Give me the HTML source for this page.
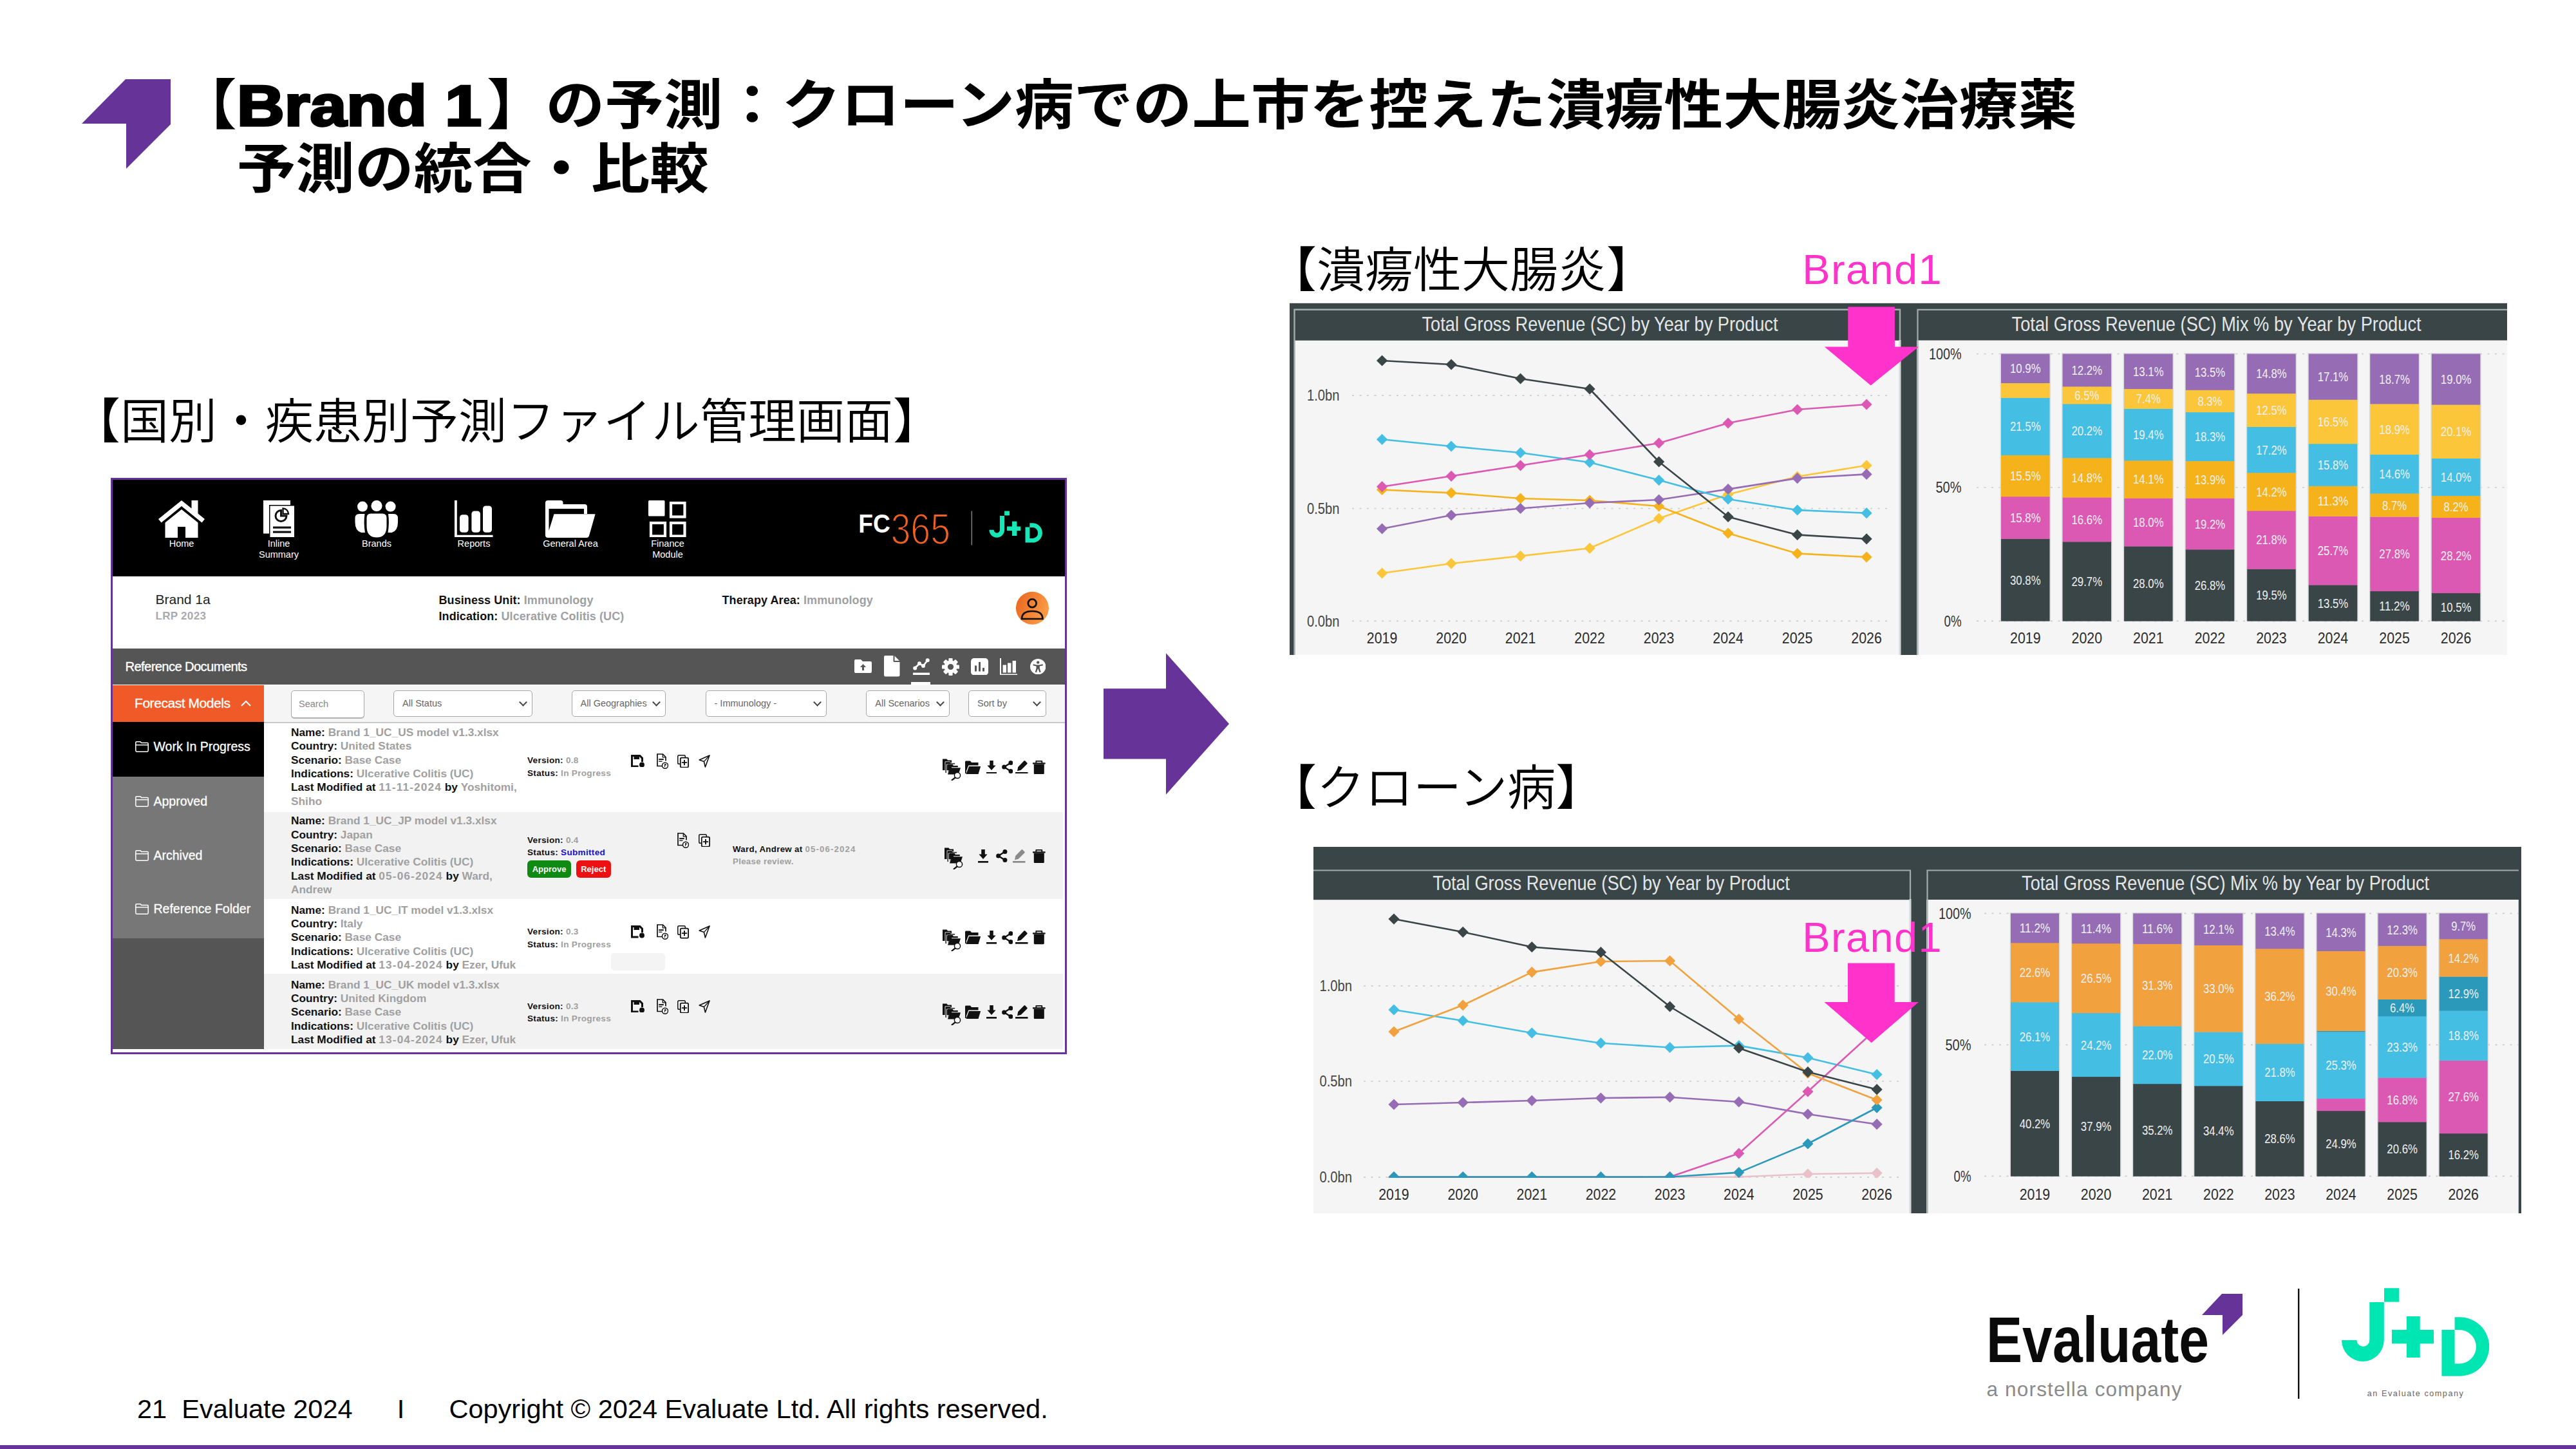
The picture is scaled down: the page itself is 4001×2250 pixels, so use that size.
<!DOCTYPE html>
<html lang="ja"><head><meta charset="utf-8"><title>Brand 1 forecast</title>
<style>
html,body{margin:0;padding:0;background:#fff;}
body{width:4001px;height:2250px;position:relative;overflow:hidden;font-family:"Liberation Sans","Noto Sans CJK JP",sans-serif;color:#000;}
.abs{position:absolute;}
.title{position:absolute;left:276px;top:114px;font-size:91.67px;line-height:108.2px;font-weight:700;white-space:nowrap;letter-spacing:0;transform:scaleY(.92);transform-origin:0 0;}
.title .lat{display:inline-block;width:388.3px;height:90px;vertical-align:baseline;}
.title .lat b{display:inline-block;position:relative;top:2px;margin-left:0.3px;font-family:"Liberation Sans",sans-serif;font-weight:700;font-size:96px;line-height:90px;-webkit-text-stroke:4px #000;transform:scaleX(1.063);transform-origin:0 50%;}
.lab{position:absolute;font-family:"Liberation Sans","Noto Sans CJK JP",sans-serif;font-weight:350;font-size:75px;line-height:100px;white-space:nowrap;}
.foot{position:absolute;left:213px;top:2164px;font-size:41.5px;line-height:48px;white-space:pre;font-family:"Liberation Sans",sans-serif;}
.pink{color:#ff33cc;}
/* app */
#app{position:absolute;left:172px;top:742px;width:1479px;height:889px;border:3px solid #663399;background:#fff;overflow:hidden;font-family:"Liberation Sans",sans-serif;}
#app .in{position:absolute;left:-175px;top:-745px;width:4001px;height:2250px;}
.nav{position:absolute;color:#fff;font-size:14.5px;line-height:17px;text-align:center;width:150px;}
.t{position:absolute;white-space:nowrap;}
.b{font-weight:700;color:#111;}
.g{font-weight:700;color:#a0a0a0;}
.row{position:absolute;left:410px;width:1244px;}
.rt{position:absolute;left:452px;font-size:17.3px;line-height:21.35px;white-space:nowrap;}
.vs{position:absolute;left:819px;font-size:13.6px;line-height:19.5px;white-space:nowrap;letter-spacing:.28px;}
.dt{letter-spacing:1.1px;}
.sel{position:absolute;box-sizing:border-box;border:1.5px solid #a8a8a8;border-radius:5px;background:#fff;color:#666;font-size:14.5px;line-height:38px;height:41px;top:1071.5px;padding-left:13px;white-space:nowrap;}
.sel i{position:absolute;right:9px;top:13px;width:7px;height:7px;border-right:2.5px solid #444;border-bottom:2.5px solid #444;transform:rotate(45deg) ;}
.side{position:absolute;left:238.5px;color:#fff;font-size:19.5px;line-height:24px;white-space:nowrap;-webkit-text-stroke:.3px #fff;}
.btn{position:absolute;color:#fff;font-weight:700;font-size:13px;line-height:27px;height:27.5px;border-radius:6px;text-align:center;top:1335.5px;}
</style></head>
<body>
<svg class="abs" style="left:0;top:0" width="400" height="400" viewBox="0 0 400 400"><polygon points="195,123 265,123 265,193 196,262 196,192 127,192" fill="#663399"/></svg>
<div class="title">【<span class="lat"><b>Brand 1</b></span>】の予測：クローン病での上市を控えた潰瘍性大腸炎治療薬<br>　予測の統合・比較</div>
<div class="lab" style="left:112px;top:605px;">【国別・疾患別予測ファイル管理画面】</div>
<div class="lab" style="left:1970px;top:369.5px;">【潰瘍性大腸炎】</div>
<div class="lab" style="left:1970px;top:1174px;">【クローン病】</div>
<svg class="abs" style="left:1700px;top:1000px" width="230" height="250" viewBox="1700 1000 230 250"><polygon points="1714,1069.2 1811,1069.2 1811,1014.2 1909,1124 1811,1233.8 1811,1178.6 1714,1178.6" fill="#663399"/></svg>
<div class="foot">21  Evaluate 2024      I      Copyright © 2024 Evaluate Ltd. All rights reserved.</div>
<div class="abs" style="left:0;top:2244px;width:4001px;height:6px;background:#663399"></div>
<div id="app"><div class="in">
<div class="abs" style="left:175px;top:745px;width:1479px;height:149.5px;background:#000"></div>
<svg class="abs" style="left:246.0px;top:775.5px" width="72.0" height="59.0" viewBox="0 0 72 59" ><path d="M36 1 L51.5 13.5 V1 H61.5 V21.5 L72 30 L67.5 35.5 L36 10 L4.5 35.5 L0 30 Z" fill="#fff"/><path d="M36 15 L61.5 35.5 V59 H42 V42 H30 V59 H10.5 V35.5 Z" fill="#fff"/></svg>
<svg class="abs" style="left:409.0px;top:776.5px" width="48.0" height="57.5" viewBox="0 0 48 57.5" ><path d="M0 0 H42 V7 H9 V51.5 H0 Z" fill="#fff"/><rect x="10.5" y="8.5" width="37.5" height="49" fill="#fff"/><path d="M27.5 15.5 A8.5 8.5 0 1 0 36 24 H27.5 Z" fill="none" stroke="#111" stroke-width="3"/><path d="M30.5 12.5 V21 H39 A8.5 8.5 0 0 0 30.5 12.5 Z" fill="none" stroke="#111" stroke-width="2.4"/><rect x="15" y="40.5" width="28" height="3.2" fill="#111"/><rect x="15" y="47.5" width="28" height="3.2" fill="#111"/></svg>
<svg class="abs" style="left:551.0px;top:777.0px" width="67.5" height="57.5" viewBox="0 0 67.5 57.5" ><circle cx="12" cy="9.6" r="8" fill="#fff"/><circle cx="34" cy="8.5" r="8.6" fill="#fff"/><circle cx="55.6" cy="9.6" r="8" fill="#fff"/><path d="M7 21 H15.5 Q13.5 35 16 50 H10 Q0.5 47 0.5 34 V27.5 Q0.5 21 7 21 Z" fill="#fff"/><path d="M60.5 21 H52 Q54 35 51.5 50 H57.5 Q67 47 67 34 V27.5 Q67 21 60.5 21 Z" fill="#fff"/><path d="M25 20.5 H43 Q49.5 20.5 49.5 27 V40 Q49.5 57.5 34 57.5 Q18.5 57.5 18.5 40 V27 Q18.5 20.5 25 20.5 Z" fill="#fff"/></svg>
<svg class="abs" style="left:706.0px;top:776.5px" width="59.5" height="57.5" viewBox="0 0 59.5 57.5" ><path d="M0 0 H3.8 V53.8 H59.5 V57.5 H0 Z" fill="#fff"/><rect x="8" y="22.3" width="13.6" height="27.5" rx="4.5" fill="#fff"/><rect x="26.4" y="16.5" width="13.6" height="33.3" rx="4.5" fill="#fff"/><rect x="44" y="8.5" width="14" height="41.3" rx="4.5" fill="#fff"/></svg>
<svg class="abs" style="left:847.0px;top:776.5px" width="78.0" height="58.0" viewBox="0 0 78 58" ><path d="M4 0 H24 Q27.5 0 27.5 3.5 V6 H61 Q65 6 65 10 V21 H60 V13 H5.5 V47 L13.5 21.3 H77.6 L68 55 Q67 58 64 58 H4 Q0 58 0 54 V4 Q0 0 4 0 Z" fill="#fff"/></svg>
<svg class="abs" style="left:1007.0px;top:776.5px" width="58.5" height="57.5" viewBox="0 0 58.5 57.5" ><rect x="0" y="0" width="25.5" height="24.5" rx="1.5" fill="#fff"/><rect x="35" y="4" width="21.5" height="21.5" fill="none" stroke="#fff" stroke-width="4.2"/><rect x="4" y="35" width="22" height="20.5" fill="none" stroke="#fff" stroke-width="4.2"/><rect x="35" y="35" width="21.5" height="20.5" fill="none" stroke="#fff" stroke-width="4.2"/></svg>
<div class="nav" style="left:207px;top:835.5px">Home</div>
<div class="nav" style="left:358px;top:835.5px">Inline<br>Summary</div>
<div class="nav" style="left:510px;top:835.5px">Brands</div>
<div class="nav" style="left:661px;top:835.5px">Reports</div>
<div class="nav" style="left:811px;top:835.5px">General Area</div>
<div class="nav" style="left:962px;top:835.5px">Finance<br>Module</div>
<svg class="abs" style="left:1325px;top:785px" width="310" height="70" viewBox="1325 785 310 70"><text x="1333.3" y="826.8" font-family="Liberation Sans, sans-serif" font-weight="700" font-size="40.5" fill="#fff" textLength="49.5" lengthAdjust="spacingAndGlyphs">FC</text><text x="1383.5" y="845.2" font-family="Liberation Sans, sans-serif" font-weight="400" font-size="69" fill="#f4601f" stroke="#000" stroke-width="2.2" textLength="92.5" lengthAdjust="spacingAndGlyphs">365</text><rect x="1508.5" y="793.5" width="1.6" height="53" fill="#777"/><g fill="#17e6b6"><rect x="1560.1" y="793.5" width="7.9" height="6.9"/><path d="M1552.9 801 H1560.1 V822.85 A11.85 11.85 0 0 1 1536.4 822.85 H1543.6 A4.65 4.65 0 0 0 1552.9 822.85 Z"/><rect x="1564" y="817.5" width="21.2" height="6.6"/><rect x="1572" y="809.6" width="7.3" height="22.4"/><path d="M1592.5 818.5 H1599.3 V835.9 H1603.7 A8.5 8.5 0 0 0 1603.7 818.9 H1599.3 V812.2 H1603.7 A15.2 15.2 0 0 1 1603.7 842.6 H1592.5 Z"/></g></svg>
<div class="t " style="left:241.5px;top:918.0px;font-size:21px;line-height:26px;color:#222;">Brand 1a</div>
<div class="t " style="left:241.5px;top:945.5px;font-size:17px;line-height:22px;font-weight:700;color:#a9a9b0;letter-spacing:.3px">LRP 2023</div>
<div class="t " style="left:681.5px;top:920.5px;font-size:18px;line-height:23px;letter-spacing:.08px"><span class="b">Business Unit:</span> <span class="g">Immunology</span></div>
<div class="t " style="left:681.5px;top:945.5px;font-size:18px;line-height:23px;letter-spacing:.08px"><span class="b">Indication:</span> <span class="g">Ulcerative Colitis (UC)</span></div>
<div class="t " style="left:1121.5px;top:920.5px;font-size:18px;line-height:23px;letter-spacing:.08px"><span class="b">Therapy Area:</span> <span class="g">Immunology</span></div>
<svg class="abs" style="left:1577px;top:918px" width="53" height="53" viewBox="0 0 53 53"><defs><linearGradient id="av" x1="0" y1="0" x2="1" y2="0.4"><stop offset="0" stop-color="#e8641e"/><stop offset="1" stop-color="#fa9a45"/></linearGradient></defs><circle cx="26.4" cy="26.3" r="25.5" fill="url(#av)"/><circle cx="26.2" cy="18.8" r="6.4" fill="none" stroke="#111" stroke-width="2.7"/><path d="M10 43 Q10 31 26.2 31 Q42.4 31 42.4 43 Z" fill="none" stroke="#111" stroke-width="2.7"/></svg>
<div class="abs" style="left:175px;top:1007.3px;width:1479px;height:56.2px;background:#555"></div>
<div class="t " style="left:194.5px;top:1022.5px;font-size:20.2px;line-height:25px;color:#fff;letter-spacing:-.62px;-webkit-text-stroke:.35px #fff;">Reference Documents</div>
<svg class="abs" style="left:1327.0px;top:1023.5px" width="27.0" height="21.1" viewBox="0 0 27 21" ><path d="M2 0 H10 L13 3 H25 Q27 3 27 5 V19 Q27 21 25 21 H2 Q0 21 0 19 V2 Q0 0 2 0 Z" fill="#fff"/><path d="M13.5 7 L18 12 H15 V17 H12 V12 H9 Z" fill="#555"/></svg>
<svg class="abs" style="left:1373.4px;top:1018.0px" width="24.5" height="32.5" viewBox="0 0 24.5 32.5" ><path d="M2 0 H14.5 V8.5 Q14.5 10 16 10 H24.5 V30 Q24.5 32.5 22 32.5 H2 Q0 32.5 0 30 V2 Q0 0 2 0 Z M16.5 0.5 L24 8 H16.5 Z" fill="#fff"/></svg>
<svg class="abs" style="left:1418.0px;top:1022.0px" width="26.0" height="26.0" viewBox="0 0 26 26" ><polyline points="3,15.5 10,8.5 16,12 22.5,3.5" fill="none" stroke="#fff" stroke-width="2.6"/><circle cx="3.2" cy="15.5" r="3" fill="#fff"/><circle cx="10" cy="8.3" r="3" fill="#fff"/><circle cx="16" cy="12" r="3" fill="#fff"/><circle cx="22.7" cy="3.3" r="3" fill="#fff"/><rect x="0" y="22.6" width="26" height="3.4" fill="#fff"/></svg>
<svg class="abs" style="left:1462.5px;top:1021.5px" width="27.0" height="27.0" viewBox="0 0 27 27" ><rect x="10.4" y="0" width="6.2" height="8" rx="1.2" transform="rotate(0 13.5 13.5)" fill="#fff"/><rect x="10.4" y="0" width="6.2" height="8" rx="1.2" transform="rotate(45 13.5 13.5)" fill="#fff"/><rect x="10.4" y="0" width="6.2" height="8" rx="1.2" transform="rotate(90 13.5 13.5)" fill="#fff"/><rect x="10.4" y="0" width="6.2" height="8" rx="1.2" transform="rotate(135 13.5 13.5)" fill="#fff"/><rect x="10.4" y="0" width="6.2" height="8" rx="1.2" transform="rotate(180 13.5 13.5)" fill="#fff"/><rect x="10.4" y="0" width="6.2" height="8" rx="1.2" transform="rotate(225 13.5 13.5)" fill="#fff"/><rect x="10.4" y="0" width="6.2" height="8" rx="1.2" transform="rotate(270 13.5 13.5)" fill="#fff"/><rect x="10.4" y="0" width="6.2" height="8" rx="1.2" transform="rotate(315 13.5 13.5)" fill="#fff"/><circle cx="13.5" cy="13.5" r="10" fill="#fff"/><circle cx="13.5" cy="13.5" r="4.6" fill="#555"/></svg>
<svg class="abs" style="left:1508.0px;top:1021.5px" width="27.0" height="26.5" viewBox="0 0 27 26.5" ><rect x="0" y="0" width="27" height="26.5" rx="5" fill="#fff"/><rect x="6" y="11.5" width="3" height="9" fill="#555"/><rect x="12" y="6" width="3" height="14.5" fill="#555"/><rect x="18" y="15" width="3" height="5.5" fill="#555"/></svg>
<svg class="abs" style="left:1553.0px;top:1021.5px" width="27.0" height="26.5" viewBox="0 0 27 26.5" ><path d="M0 0 H2 V24.5 H27 V26.5 H0 Z" fill="#fff"/><rect x="4.6" y="10.5" width="5.4" height="12" fill="#fff"/><rect x="12" y="7.5" width="5.4" height="15" fill="#fff"/><rect x="19.6" y="4" width="5.4" height="18.5" fill="#fff"/></svg>
<svg class="abs" style="left:1599.7px;top:1022.6px" width="24.4" height="24.4" viewBox="0 0 24.4 24.4" ><circle cx="12.2" cy="12.2" r="12.2" fill="#fff"/><circle cx="12.2" cy="5.6" r="2.2" fill="#555"/><path d="M4.8 8.3 L10 9.4 H14.4 L19.6 8.3 L20 10.3 L14.8 11.6 V14.5 L16.6 20.6 L14.6 21.2 L12.4 15.6 H12 L9.8 21.2 L7.8 20.6 L9.6 14.5 V11.6 L4.4 10.3 Z" fill="#555"/></svg>
<div class="abs" style="left:1415px;top:1059px;width:29.5px;height:4.5px;background:#fff"></div>
<div class="abs" style="left:175px;top:1063.5px;width:235px;height:57px;background:#f05a28"></div>
<div class="t " style="left:209.0px;top:1079.0px;font-size:21px;line-height:26px;color:#fff;letter-spacing:-.45px;-webkit-text-stroke:.3px #fff;">Forecast Models</div>
<svg class="abs" style="left:373px;top:1086px" width="18" height="12" viewBox="0 0 18 12"><polyline points="2,10 9,3 16,10" fill="none" stroke="#fff" stroke-width="2.2"/></svg>
<div class="abs" style="left:175px;top:1120.5px;width:235px;height:85.5px;background:#000"></div>
<div class="abs" style="left:175px;top:1206px;width:235px;height:251px;background:#777"></div>
<div class="abs" style="left:175px;top:1457px;width:235px;height:172px;background:#555"></div>
<svg class="abs" style="left:210.0px;top:1150.5px" width="21.0" height="17.0" viewBox="0 0 21 17" ><path d="M2.2 0.8 H8 L9.6 2.6 H18.8 Q20.2 2.6 20.2 4 V14.6 Q20.2 16.2 18.6 16.2 H2.4 Q0.8 16.2 0.8 14.6 V2.2 Q0.8 0.8 2.2 0.8 Z" fill="none" stroke="#fff" stroke-width="1.5"/><path d="M0.8 5.8 H20.2" stroke="#fff" stroke-width="1.4"/></svg>
<div class="side" style="top:1146.5px">Work In Progress</div>
<svg class="abs" style="left:210.0px;top:1235.5px" width="21.0" height="17.0" viewBox="0 0 21 17" ><path d="M2.2 0.8 H8 L9.6 2.6 H18.8 Q20.2 2.6 20.2 4 V14.6 Q20.2 16.2 18.6 16.2 H2.4 Q0.8 16.2 0.8 14.6 V2.2 Q0.8 0.8 2.2 0.8 Z" fill="none" stroke="#fff" stroke-width="1.5"/><path d="M0.8 5.8 H20.2" stroke="#fff" stroke-width="1.4"/></svg>
<div class="side" style="top:1231.5px">Approved</div>
<svg class="abs" style="left:210.0px;top:1319.5px" width="21.0" height="17.0" viewBox="0 0 21 17" ><path d="M2.2 0.8 H8 L9.6 2.6 H18.8 Q20.2 2.6 20.2 4 V14.6 Q20.2 16.2 18.6 16.2 H2.4 Q0.8 16.2 0.8 14.6 V2.2 Q0.8 0.8 2.2 0.8 Z" fill="none" stroke="#fff" stroke-width="1.5"/><path d="M0.8 5.8 H20.2" stroke="#fff" stroke-width="1.4"/></svg>
<div class="side" style="top:1315.5px">Archived</div>
<svg class="abs" style="left:210.0px;top:1403.2px" width="21.0" height="17.0" viewBox="0 0 21 17" ><path d="M2.2 0.8 H8 L9.6 2.6 H18.8 Q20.2 2.6 20.2 4 V14.6 Q20.2 16.2 18.6 16.2 H2.4 Q0.8 16.2 0.8 14.6 V2.2 Q0.8 0.8 2.2 0.8 Z" fill="none" stroke="#fff" stroke-width="1.5"/><path d="M0.8 5.8 H20.2" stroke="#fff" stroke-width="1.4"/></svg>
<div class="side" style="top:1399.2px">Reference Folder</div>
<div class="abs" style="left:410px;top:1063.5px;width:1244px;height:57.5px;background:#f5f5f5;border-bottom:2px solid #c9c9c9"></div>
<div class="sel" style="left:452.0px;width:114.0px;top:1071.5px;height:43px;line-height:41px;color:#888;padding-left:11px;box-shadow:0 1px 0 #bbb;">Search</div>
<div class="sel" style="left:611.0px;width:216.0px;">All Status<i></i></div>
<div class="sel" style="left:887.5px;width:146.0px;">All Geographies<i></i></div>
<div class="sel" style="left:1095.5px;width:188.0px;">- Immunology -<i></i></div>
<div class="sel" style="left:1345.3px;width:129.4px;">All Scenarios<i></i></div>
<div class="sel" style="left:1504.0px;width:121.0px;">Sort by<i></i></div>
<div class="abs" style="left:410px;top:1123px;width:1241px;height:138px;background:#fff"></div>
<div class="abs" style="left:410px;top:1261px;width:1241px;height:135px;background:#f2f2f2"></div>
<div class="abs" style="left:410px;top:1396px;width:1241px;height:116px;background:#fff"></div>
<div class="abs" style="left:410px;top:1512px;width:1241px;height:117px;background:#f2f2f2"></div>
<div class="rt" style="top:1127.0px"><span class="b">Name:</span> <span class="g">Brand 1_UC_US model v1.3.xlsx</span><br><span class="b">Country:</span> <span class="g">United States</span><br><span class="b">Scenario:</span> <span class="g">Base Case</span><br><span class="b">Indications:</span> <span class="g">Ulcerative Colitis (UC)</span><br><span class="b">Last Modified at</span> <span class="g dt">11-11-2024</span> <span class="b">by</span> <span class="g">Yoshitomi,<br>Shiho</span></div>
<div class="rt" style="top:1264.3px"><span class="b">Name:</span> <span class="g">Brand 1_UC_JP model v1.3.xlsx</span><br><span class="b">Country:</span> <span class="g">Japan</span><br><span class="b">Scenario:</span> <span class="g">Base Case</span><br><span class="b">Indications:</span> <span class="g">Ulcerative Colitis (UC)</span><br><span class="b">Last Modified at</span> <span class="g dt">05-06-2024</span> <span class="b">by</span> <span class="g">Ward,<br>Andrew</span></div>
<div class="rt" style="top:1402.8px"><span class="b">Name:</span> <span class="g">Brand 1_UC_IT model v1.3.xlsx</span><br><span class="b">Country:</span> <span class="g">Italy</span><br><span class="b">Scenario:</span> <span class="g">Base Case</span><br><span class="b">Indications:</span> <span class="g">Ulcerative Colitis (UC)</span><br><span class="b">Last Modified at</span> <span class="g dt">13-04-2024</span> <span class="b">by</span> <span class="g">Ezer, Ufuk</span></div>
<div class="rt" style="top:1518.6px"><span class="b">Name:</span> <span class="g">Brand 1_UC_UK model v1.3.xlsx</span><br><span class="b">Country:</span> <span class="g">United Kingdom</span><br><span class="b">Scenario:</span> <span class="g">Base Case</span><br><span class="b">Indications:</span> <span class="g">Ulcerative Colitis (UC)</span><br><span class="b">Last Modified at</span> <span class="g dt">13-04-2024</span> <span class="b">by</span> <span class="g">Ezer, Ufuk</span></div>
<div class="vs" style="top:1171.3px"><span class="b">Version:</span> <span class="g">0.8</span><br><span class="b">Status:</span> <span class="g">In Progress</span></div>
<div class="vs" style="top:1294.7px"><span class="b">Version:</span> <span class="g">0.4</span><br><span class="b">Status:</span> <span style="color:#1a12c8;font-weight:700">Submitted</span></div>
<div class="vs" style="top:1437.0px"><span class="b">Version:</span> <span class="g">0.3</span><br><span class="b">Status:</span> <span class="g">In Progress</span></div>
<div class="vs" style="top:1552.7px"><span class="b">Version:</span> <span class="g">0.3</span><br><span class="b">Status:</span> <span class="g">In Progress</span></div>
<div class="btn" style="left:819px;width:68px;background:#0f8a12">Approve</div><div class="btn" style="left:894.5px;width:54.5px;background:#ee1111">Reject</div>
<div class="abs" style="left:949px;top:1480px;width:84px;height:27px;border-radius:5px;background:#f4f4f4"></div>
<svg class="abs" style="left:979.8px;top:1171.8px" width="21.2" height="19.5" viewBox="0 0 21.2 19.5" ><path d="M0 0 H14.5 L19 4.5 V11 H16 V6 L13.5 3.2 H13 V7 H4.5 V3 H3 V16.5 H11.5 V19.5 H0 Z" fill="#111"/><rect x="6.5" y="1" width="3.6" height="4" fill="#111"/><circle cx="17" cy="15.5" r="4" fill="#111"/></svg>
<svg class="abs" style="left:1020.0px;top:1169.7px" width="18.0" height="24.0" viewBox="0 0 18 24" ><path d="M1 1 H9.5 L14 5.5 V11.5" fill="none" stroke="#111" stroke-width="1.7"/><path d="M1 0.2 V19.5 H8" fill="none" stroke="#111" stroke-width="1.7"/><path d="M9.3 1.3 V5.8 H13.8" fill="none" stroke="#111" stroke-width="1.3"/><rect x="3.2" y="8.2" width="7.6" height="1.9" fill="#111"/><rect x="3.2" y="11.6" width="5.2" height="1.3" fill="#111"/><circle cx="13" cy="18.7" r="4.5" fill="#fff" stroke="#111" stroke-width="1.5"/><path d="M12 16.3 H14.6 V18.6 H12.9 V21 H12 Z" fill="#111"/></svg>
<svg class="abs" style="left:1051.7px;top:1171.7px" width="18.0" height="20.5" viewBox="0 0 18 20.5" ><rect x="0.8" y="0.8" width="11.5" height="13.5" rx="1.8" fill="#fff" stroke="#111" stroke-width="1.5"/><rect x="4.8" y="4.6" width="12.3" height="15" rx="1.8" fill="#fff" stroke="#111" stroke-width="1.8"/><path d="M11 8 V16.2 M6.9 12.1 H15.1" stroke="#111" stroke-width="1.9" fill="none"/></svg>
<svg class="abs" style="left:1085.2px;top:1172.1px" width="18.0" height="20.0" viewBox="0 0 18 20" ><path d="M17 1 L1.2 8 L8.4 10.6 L10.4 19 Z" fill="none" stroke="#111" stroke-width="1.6" stroke-linejoin="round"/><path d="M17 1 L8.4 10.6" stroke="#111" stroke-width="1.4"/></svg>
<svg class="abs" style="left:979.8px;top:1437.1px" width="21.2" height="19.5" viewBox="0 0 21.2 19.5" ><path d="M0 0 H14.5 L19 4.5 V11 H16 V6 L13.5 3.2 H13 V7 H4.5 V3 H3 V16.5 H11.5 V19.5 H0 Z" fill="#111"/><rect x="6.5" y="1" width="3.6" height="4" fill="#111"/><circle cx="17" cy="15.5" r="4" fill="#111"/></svg>
<svg class="abs" style="left:1020.0px;top:1435.0px" width="18.0" height="24.0" viewBox="0 0 18 24" ><path d="M1 1 H9.5 L14 5.5 V11.5" fill="none" stroke="#111" stroke-width="1.7"/><path d="M1 0.2 V19.5 H8" fill="none" stroke="#111" stroke-width="1.7"/><path d="M9.3 1.3 V5.8 H13.8" fill="none" stroke="#111" stroke-width="1.3"/><rect x="3.2" y="8.2" width="7.6" height="1.9" fill="#111"/><rect x="3.2" y="11.6" width="5.2" height="1.3" fill="#111"/><circle cx="13" cy="18.7" r="4.5" fill="#fff" stroke="#111" stroke-width="1.5"/><path d="M12 16.3 H14.6 V18.6 H12.9 V21 H12 Z" fill="#111"/></svg>
<svg class="abs" style="left:1051.7px;top:1437.0px" width="18.0" height="20.5" viewBox="0 0 18 20.5" ><rect x="0.8" y="0.8" width="11.5" height="13.5" rx="1.8" fill="#fff" stroke="#111" stroke-width="1.5"/><rect x="4.8" y="4.6" width="12.3" height="15" rx="1.8" fill="#fff" stroke="#111" stroke-width="1.8"/><path d="M11 8 V16.2 M6.9 12.1 H15.1" stroke="#111" stroke-width="1.9" fill="none"/></svg>
<svg class="abs" style="left:1085.2px;top:1437.4px" width="18.0" height="20.0" viewBox="0 0 18 20" ><path d="M17 1 L1.2 8 L8.4 10.6 L10.4 19 Z" fill="none" stroke="#111" stroke-width="1.6" stroke-linejoin="round"/><path d="M17 1 L8.4 10.6" stroke="#111" stroke-width="1.4"/></svg>
<svg class="abs" style="left:979.8px;top:1552.9px" width="21.2" height="19.5" viewBox="0 0 21.2 19.5" ><path d="M0 0 H14.5 L19 4.5 V11 H16 V6 L13.5 3.2 H13 V7 H4.5 V3 H3 V16.5 H11.5 V19.5 H0 Z" fill="#111"/><rect x="6.5" y="1" width="3.6" height="4" fill="#111"/><circle cx="17" cy="15.5" r="4" fill="#111"/></svg>
<svg class="abs" style="left:1020.0px;top:1550.8px" width="18.0" height="24.0" viewBox="0 0 18 24" ><path d="M1 1 H9.5 L14 5.5 V11.5" fill="none" stroke="#111" stroke-width="1.7"/><path d="M1 0.2 V19.5 H8" fill="none" stroke="#111" stroke-width="1.7"/><path d="M9.3 1.3 V5.8 H13.8" fill="none" stroke="#111" stroke-width="1.3"/><rect x="3.2" y="8.2" width="7.6" height="1.9" fill="#111"/><rect x="3.2" y="11.6" width="5.2" height="1.3" fill="#111"/><circle cx="13" cy="18.7" r="4.5" fill="#fff" stroke="#111" stroke-width="1.5"/><path d="M12 16.3 H14.6 V18.6 H12.9 V21 H12 Z" fill="#111"/></svg>
<svg class="abs" style="left:1051.7px;top:1552.8px" width="18.0" height="20.5" viewBox="0 0 18 20.5" ><rect x="0.8" y="0.8" width="11.5" height="13.5" rx="1.8" fill="#fff" stroke="#111" stroke-width="1.5"/><rect x="4.8" y="4.6" width="12.3" height="15" rx="1.8" fill="#fff" stroke="#111" stroke-width="1.8"/><path d="M11 8 V16.2 M6.9 12.1 H15.1" stroke="#111" stroke-width="1.9" fill="none"/></svg>
<svg class="abs" style="left:1085.2px;top:1553.2px" width="18.0" height="20.0" viewBox="0 0 18 20" ><path d="M17 1 L1.2 8 L8.4 10.6 L10.4 19 Z" fill="none" stroke="#111" stroke-width="1.6" stroke-linejoin="round"/><path d="M17 1 L8.4 10.6" stroke="#111" stroke-width="1.4"/></svg>
<svg class="abs" style="left:1052.0px;top:1292.7px" width="18.0" height="24.0" viewBox="0 0 18 24" ><path d="M1 1 H9.5 L14 5.5 V11.5" fill="none" stroke="#111" stroke-width="1.7"/><path d="M1 0.2 V19.5 H8" fill="none" stroke="#111" stroke-width="1.7"/><path d="M9.3 1.3 V5.8 H13.8" fill="none" stroke="#111" stroke-width="1.3"/><rect x="3.2" y="8.2" width="7.6" height="1.9" fill="#111"/><rect x="3.2" y="11.6" width="5.2" height="1.3" fill="#111"/><circle cx="13" cy="18.7" r="4.5" fill="#fff" stroke="#111" stroke-width="1.5"/><path d="M12 16.3 H14.6 V18.6 H12.9 V21 H12 Z" fill="#111"/></svg>
<svg class="abs" style="left:1084.5px;top:1294.7px" width="18.0" height="20.5" viewBox="0 0 18 20.5" ><rect x="0.8" y="0.8" width="11.5" height="13.5" rx="1.8" fill="#fff" stroke="#111" stroke-width="1.5"/><rect x="4.8" y="4.6" width="12.3" height="15" rx="1.8" fill="#fff" stroke="#111" stroke-width="1.8"/><path d="M11 8 V16.2 M6.9 12.1 H15.1" stroke="#111" stroke-width="1.9" fill="none"/></svg>
<div class="t " style="left:1138.0px;top:1310.0px;font-size:13.3px;line-height:18.8px;letter-spacing:.3px"><span class="b">Ward, Andrew at</span> <span class="g dt">05-06-2024</span><br><span class="g">Please review.</span></div>
<svg class="abs" style="left:1463.5px;top:1178.0px" width="29.0" height="34.0" viewBox="0 0 29 34" ><path d="M0 0.5 H6.5 L8 2.5 H14 V18 H0 Z" fill="#111"/><path d="M4 4.8 H11.5 L13 6.8 H19.5 V9 H6.2 V22.5 H4 Z" fill="#111" stroke="#fff" stroke-width="0.8"/><path d="M8 9 H15.5 L17 11 H23.8 V13.2 H10.5 L8.6 21 V24 Z" fill="#111"/><path d="M11.2 14.2 H28 L24.6 24.5 H8 Z" fill="#111"/><circle cx="23" cy="26" r="4.6" fill="#fff" stroke="#111" stroke-width="1.5"/><path d="M19.6 29.4 L14.6 33.4" stroke="#111" stroke-width="2.3" stroke-linecap="round"/></svg>
<svg class="abs" style="left:1498.6px;top:1180.7px" width="24.4" height="21.3" viewBox="0 0 24.4 21.3" ><path d="M1 0.5 H8 L10 3 H20.5 V7.5 H5.2 L1.8 16.5 V20 H0 V1.5 Z" fill="#111"/><path d="M6 9 H24.2 L20.5 21 H1.5 Z" fill="#111"/></svg>
<svg class="abs" style="left:1531.8px;top:1180.7px" width="16.0" height="20.7" viewBox="0 0 16 20.7" ><path d="M5.2 0 H10.8 V7.6 H14.6 L8 15 L1.4 7.6 H5.2 Z" fill="#111"/><rect x="0" y="18" width="16" height="2.7" fill="#111"/></svg>
<svg class="abs" style="left:1555.8px;top:1181.3px" width="17.5" height="20.0" viewBox="0 0 17.5 20" ><path d="M13.8 3.4 L3.6 10 L13.8 16.6" fill="none" stroke="#111" stroke-width="2.4"/><circle cx="13.9" cy="3.5" r="3.5" fill="#111"/><circle cx="3.6" cy="10" r="3.5" fill="#111"/><circle cx="13.9" cy="16.5" r="3.5" fill="#111"/></svg>
<svg class="abs" style="left:1577.3px;top:1180.7px" width="19.5" height="20.7" viewBox="0 0 19.5 20.7" ><path d="M13.4 0.6 Q14.4 -0.4 15.4 0.6 L18.2 3.4 Q19.2 4.4 18.2 5.4 L8.8 14.8 L3 16.2 L4.2 10 Z" fill="#111"/><rect x="0" y="18" width="19.5" height="2.7" fill="#111"/></svg>
<svg class="abs" style="left:1604.0px;top:1180.7px" width="19.6" height="21.3" viewBox="0 0 19.6 21.3" ><path d="M5.4 0 H14.2 Q15.2 0 15.2 1 V3.2 H19.6 V5.4 H0 V3.2 H4.4 V1 Q4.4 0 5.4 0 Z M6.2 1.8 V3.2 H13.4 V1.8 Z" fill="#111"/><path d="M1.8 5.4 H17.8 V19.6 Q17.8 21.3 16.2 21.3 H3.4 Q1.8 21.3 1.8 19.6 Z" fill="#111"/></svg>
<svg class="abs" style="left:1463.5px;top:1442.7px" width="29.0" height="34.0" viewBox="0 0 29 34" ><path d="M0 0.5 H6.5 L8 2.5 H14 V18 H0 Z" fill="#111"/><path d="M4 4.8 H11.5 L13 6.8 H19.5 V9 H6.2 V22.5 H4 Z" fill="#111" stroke="#fff" stroke-width="0.8"/><path d="M8 9 H15.5 L17 11 H23.8 V13.2 H10.5 L8.6 21 V24 Z" fill="#111"/><path d="M11.2 14.2 H28 L24.6 24.5 H8 Z" fill="#111"/><circle cx="23" cy="26" r="4.6" fill="#fff" stroke="#111" stroke-width="1.5"/><path d="M19.6 29.4 L14.6 33.4" stroke="#111" stroke-width="2.3" stroke-linecap="round"/></svg>
<svg class="abs" style="left:1498.6px;top:1445.4px" width="24.4" height="21.3" viewBox="0 0 24.4 21.3" ><path d="M1 0.5 H8 L10 3 H20.5 V7.5 H5.2 L1.8 16.5 V20 H0 V1.5 Z" fill="#111"/><path d="M6 9 H24.2 L20.5 21 H1.5 Z" fill="#111"/></svg>
<svg class="abs" style="left:1531.8px;top:1445.4px" width="16.0" height="20.7" viewBox="0 0 16 20.7" ><path d="M5.2 0 H10.8 V7.6 H14.6 L8 15 L1.4 7.6 H5.2 Z" fill="#111"/><rect x="0" y="18" width="16" height="2.7" fill="#111"/></svg>
<svg class="abs" style="left:1555.8px;top:1446.0px" width="17.5" height="20.0" viewBox="0 0 17.5 20" ><path d="M13.8 3.4 L3.6 10 L13.8 16.6" fill="none" stroke="#111" stroke-width="2.4"/><circle cx="13.9" cy="3.5" r="3.5" fill="#111"/><circle cx="3.6" cy="10" r="3.5" fill="#111"/><circle cx="13.9" cy="16.5" r="3.5" fill="#111"/></svg>
<svg class="abs" style="left:1577.3px;top:1445.4px" width="19.5" height="20.7" viewBox="0 0 19.5 20.7" ><path d="M13.4 0.6 Q14.4 -0.4 15.4 0.6 L18.2 3.4 Q19.2 4.4 18.2 5.4 L8.8 14.8 L3 16.2 L4.2 10 Z" fill="#111"/><rect x="0" y="18" width="19.5" height="2.7" fill="#111"/></svg>
<svg class="abs" style="left:1604.0px;top:1445.4px" width="19.6" height="21.3" viewBox="0 0 19.6 21.3" ><path d="M5.4 0 H14.2 Q15.2 0 15.2 1 V3.2 H19.6 V5.4 H0 V3.2 H4.4 V1 Q4.4 0 5.4 0 Z M6.2 1.8 V3.2 H13.4 V1.8 Z" fill="#111"/><path d="M1.8 5.4 H17.8 V19.6 Q17.8 21.3 16.2 21.3 H3.4 Q1.8 21.3 1.8 19.6 Z" fill="#111"/></svg>
<svg class="abs" style="left:1463.5px;top:1558.2px" width="29.0" height="34.0" viewBox="0 0 29 34" ><path d="M0 0.5 H6.5 L8 2.5 H14 V18 H0 Z" fill="#111"/><path d="M4 4.8 H11.5 L13 6.8 H19.5 V9 H6.2 V22.5 H4 Z" fill="#111" stroke="#fff" stroke-width="0.8"/><path d="M8 9 H15.5 L17 11 H23.8 V13.2 H10.5 L8.6 21 V24 Z" fill="#111"/><path d="M11.2 14.2 H28 L24.6 24.5 H8 Z" fill="#111"/><circle cx="23" cy="26" r="4.6" fill="#fff" stroke="#111" stroke-width="1.5"/><path d="M19.6 29.4 L14.6 33.4" stroke="#111" stroke-width="2.3" stroke-linecap="round"/></svg>
<svg class="abs" style="left:1498.6px;top:1560.9px" width="24.4" height="21.3" viewBox="0 0 24.4 21.3" ><path d="M1 0.5 H8 L10 3 H20.5 V7.5 H5.2 L1.8 16.5 V20 H0 V1.5 Z" fill="#111"/><path d="M6 9 H24.2 L20.5 21 H1.5 Z" fill="#111"/></svg>
<svg class="abs" style="left:1531.8px;top:1560.9px" width="16.0" height="20.7" viewBox="0 0 16 20.7" ><path d="M5.2 0 H10.8 V7.6 H14.6 L8 15 L1.4 7.6 H5.2 Z" fill="#111"/><rect x="0" y="18" width="16" height="2.7" fill="#111"/></svg>
<svg class="abs" style="left:1555.8px;top:1561.5px" width="17.5" height="20.0" viewBox="0 0 17.5 20" ><path d="M13.8 3.4 L3.6 10 L13.8 16.6" fill="none" stroke="#111" stroke-width="2.4"/><circle cx="13.9" cy="3.5" r="3.5" fill="#111"/><circle cx="3.6" cy="10" r="3.5" fill="#111"/><circle cx="13.9" cy="16.5" r="3.5" fill="#111"/></svg>
<svg class="abs" style="left:1577.3px;top:1560.9px" width="19.5" height="20.7" viewBox="0 0 19.5 20.7" ><path d="M13.4 0.6 Q14.4 -0.4 15.4 0.6 L18.2 3.4 Q19.2 4.4 18.2 5.4 L8.8 14.8 L3 16.2 L4.2 10 Z" fill="#111"/><rect x="0" y="18" width="19.5" height="2.7" fill="#111"/></svg>
<svg class="abs" style="left:1604.0px;top:1560.9px" width="19.6" height="21.3" viewBox="0 0 19.6 21.3" ><path d="M5.4 0 H14.2 Q15.2 0 15.2 1 V3.2 H19.6 V5.4 H0 V3.2 H4.4 V1 Q4.4 0 5.4 0 Z M6.2 1.8 V3.2 H13.4 V1.8 Z" fill="#111"/><path d="M1.8 5.4 H17.8 V19.6 Q17.8 21.3 16.2 21.3 H3.4 Q1.8 21.3 1.8 19.6 Z" fill="#111"/></svg>
<svg class="abs" style="left:1466.5px;top:1316.0px" width="29.0" height="34.0" viewBox="0 0 29 34" ><path d="M0 0.5 H6.5 L8 2.5 H14 V18 H0 Z" fill="#111"/><path d="M4 4.8 H11.5 L13 6.8 H19.5 V9 H6.2 V22.5 H4 Z" fill="#111" stroke="#fff" stroke-width="0.8"/><path d="M8 9 H15.5 L17 11 H23.8 V13.2 H10.5 L8.6 21 V24 Z" fill="#111"/><path d="M11.2 14.2 H28 L24.6 24.5 H8 Z" fill="#111"/><circle cx="23" cy="26" r="4.6" fill="#fff" stroke="#111" stroke-width="1.5"/><path d="M19.6 29.4 L14.6 33.4" stroke="#111" stroke-width="2.3" stroke-linecap="round"/></svg>
<svg class="abs" style="left:1519.2px;top:1319.3px" width="16.0" height="20.7" viewBox="0 0 16 20.7" ><path d="M5.2 0 H10.8 V7.6 H14.6 L8 15 L1.4 7.6 H5.2 Z" fill="#111"/><rect x="0" y="18" width="16" height="2.7" fill="#111"/></svg>
<svg class="abs" style="left:1547.2px;top:1319.3px" width="17.5" height="20.0" viewBox="0 0 17.5 20" ><path d="M13.8 3.4 L3.6 10 L13.8 16.6" fill="none" stroke="#111" stroke-width="2.4"/><circle cx="13.9" cy="3.5" r="3.5" fill="#111"/><circle cx="3.6" cy="10" r="3.5" fill="#111"/><circle cx="13.9" cy="16.5" r="3.5" fill="#111"/></svg>
<svg class="abs" style="left:1573.2px;top:1319.1px" width="19.5" height="20.7" viewBox="0 0 19.5 20.7" ><path d="M13.4 0.6 Q14.4 -0.4 15.4 0.6 L18.2 3.4 Q19.2 4.4 18.2 5.4 L8.8 14.8 L3 16.2 L4.2 10 Z" fill="#8a8a8a"/><rect x="0" y="18" width="19.5" height="2.7" fill="#8a8a8a"/></svg>
<svg class="abs" style="left:1604.0px;top:1318.7px" width="19.6" height="21.3" viewBox="0 0 19.6 21.3" ><path d="M5.4 0 H14.2 Q15.2 0 15.2 1 V3.2 H19.6 V5.4 H0 V3.2 H4.4 V1 Q4.4 0 5.4 0 Z M6.2 1.8 V3.2 H13.4 V1.8 Z" fill="#111"/><path d="M1.8 5.4 H17.8 V19.6 Q17.8 21.3 16.2 21.3 H3.4 Q1.8 21.3 1.8 19.6 Z" fill="#111"/></svg>
</div></div>

<svg class="abs" style="left:2003px;top:470px" width="1892" height="547" viewBox="2003 470 1892 547"><rect x="2003" y="470.8" width="1891" height="546.2" fill="#3a4547"/><rect x="2011" y="528.7" width="941" height="488.3" fill="#f5f5f5"/><path d="M2010.5 1017 V480.8 H2951 V528" fill="none" stroke="#a3abad" stroke-width="2.4"/><path d="M2951 528 V1017" fill="none" stroke="#d5d8d8" stroke-width="3"/><text x="2485.0" y="513.7" font-family="Liberation Sans, sans-serif" font-size="32.0" fill="#e3e6e6" text-anchor="middle" font-weight="400" textLength="553.0" lengthAdjust="spacingAndGlyphs" >Total Gross Revenue (SC) by Year by Product</text><rect x="2977" y="528.5" width="917" height="488.5" fill="#f5f5f5"/><path d="M2978.5 1017 V480.8 H3894" fill="none" stroke="#a3abad" stroke-width="2.2"/><text x="3442.6" y="513.7" font-family="Liberation Sans, sans-serif" font-size="32.0" fill="#e3e6e6" text-anchor="middle" font-weight="400" textLength="636.0" lengthAdjust="spacingAndGlyphs" >Total Gross Revenue (SC) Mix % by Year by Product</text><line x1="2100.0" y1="614.2" x2="2935.0" y2="614.2" stroke="#cbcbcb" stroke-width="1.7" stroke-dasharray="3 8.5"/><line x1="2100.0" y1="789.5" x2="2935.0" y2="789.5" stroke="#cbcbcb" stroke-width="1.7" stroke-dasharray="3 8.5"/><line x1="2100.0" y1="964.4" x2="2935.0" y2="964.4" stroke="#cbcbcb" stroke-width="1.7" stroke-dasharray="3 8.5"/><text x="2080.5" y="622.4" font-family="Liberation Sans, sans-serif" font-size="23.0" fill="#444" text-anchor="end" font-weight="400" textLength="50.5" lengthAdjust="spacingAndGlyphs" >1.0bn</text><text x="2080.5" y="797.7" font-family="Liberation Sans, sans-serif" font-size="23.0" fill="#444" text-anchor="end" font-weight="400" textLength="50.5" lengthAdjust="spacingAndGlyphs" >0.5bn</text><text x="2080.5" y="972.6" font-family="Liberation Sans, sans-serif" font-size="23.0" fill="#444" text-anchor="end" font-weight="400" textLength="50.5" lengthAdjust="spacingAndGlyphs" >0.0bn</text><text x="2146.6" y="998.8" font-family="Liberation Sans, sans-serif" font-size="23.6" fill="#2c2c2c" text-anchor="middle" font-weight="400" textLength="47.5" lengthAdjust="spacingAndGlyphs" >2019</text><text x="2254.1" y="998.8" font-family="Liberation Sans, sans-serif" font-size="23.6" fill="#2c2c2c" text-anchor="middle" font-weight="400" textLength="47.5" lengthAdjust="spacingAndGlyphs" >2020</text><text x="2361.6" y="998.8" font-family="Liberation Sans, sans-serif" font-size="23.6" fill="#2c2c2c" text-anchor="middle" font-weight="400" textLength="47.5" lengthAdjust="spacingAndGlyphs" >2021</text><text x="2469.1" y="998.8" font-family="Liberation Sans, sans-serif" font-size="23.6" fill="#2c2c2c" text-anchor="middle" font-weight="400" textLength="47.5" lengthAdjust="spacingAndGlyphs" >2022</text><text x="2576.6" y="998.8" font-family="Liberation Sans, sans-serif" font-size="23.6" fill="#2c2c2c" text-anchor="middle" font-weight="400" textLength="47.5" lengthAdjust="spacingAndGlyphs" >2023</text><text x="2684.1" y="998.8" font-family="Liberation Sans, sans-serif" font-size="23.6" fill="#2c2c2c" text-anchor="middle" font-weight="400" textLength="47.5" lengthAdjust="spacingAndGlyphs" >2024</text><text x="2791.6" y="998.8" font-family="Liberation Sans, sans-serif" font-size="23.6" fill="#2c2c2c" text-anchor="middle" font-weight="400" textLength="47.5" lengthAdjust="spacingAndGlyphs" >2025</text><text x="2899.1" y="998.8" font-family="Liberation Sans, sans-serif" font-size="23.6" fill="#2c2c2c" text-anchor="middle" font-weight="400" textLength="47.5" lengthAdjust="spacingAndGlyphs" >2026</text><polyline points="2146.6,890.0 2254.1,875.0 2361.6,863.4 2469.1,851.3 2576.6,805.0 2684.1,767.8 2791.6,740.0 2899.1,722.8" fill="none" stroke="#fcc63a" stroke-width="2.6" stroke-linejoin="round"/><path d="M2138.0 890.0 L2146.6 881.4 L2155.2 890.0 L2146.6 898.6 Z" fill="#fcc63a"/><path d="M2245.5 875.0 L2254.1 866.4 L2262.7 875.0 L2254.1 883.6 Z" fill="#fcc63a"/><path d="M2353.0 863.4 L2361.6 854.8 L2370.2 863.4 L2361.6 872.0 Z" fill="#fcc63a"/><path d="M2460.5 851.3 L2469.1 842.7 L2477.7 851.3 L2469.1 859.9 Z" fill="#fcc63a"/><path d="M2568.0 805.0 L2576.6 796.4 L2585.2 805.0 L2576.6 813.6 Z" fill="#fcc63a"/><path d="M2675.5 767.8 L2684.1 759.2 L2692.7 767.8 L2684.1 776.4 Z" fill="#fcc63a"/><path d="M2783.0 740.0 L2791.6 731.4 L2800.2 740.0 L2791.6 748.6 Z" fill="#fcc63a"/><path d="M2890.5 722.8 L2899.1 714.2 L2907.7 722.8 L2899.1 731.4 Z" fill="#fcc63a"/><polyline points="2146.6,760.5 2254.1,765.4 2361.6,774.0 2469.1,777.0 2576.6,786.0 2684.1,828.0 2791.6,859.5 2899.1,865.0" fill="none" stroke="#f6b21b" stroke-width="2.6" stroke-linejoin="round"/><path d="M2138.0 760.5 L2146.6 751.9 L2155.2 760.5 L2146.6 769.1 Z" fill="#f6b21b"/><path d="M2245.5 765.4 L2254.1 756.8 L2262.7 765.4 L2254.1 774.0 Z" fill="#f6b21b"/><path d="M2353.0 774.0 L2361.6 765.4 L2370.2 774.0 L2361.6 782.6 Z" fill="#f6b21b"/><path d="M2460.5 777.0 L2469.1 768.4 L2477.7 777.0 L2469.1 785.6 Z" fill="#f6b21b"/><path d="M2568.0 786.0 L2576.6 777.4 L2585.2 786.0 L2576.6 794.6 Z" fill="#f6b21b"/><path d="M2675.5 828.0 L2684.1 819.4 L2692.7 828.0 L2684.1 836.6 Z" fill="#f6b21b"/><path d="M2783.0 859.5 L2791.6 850.9 L2800.2 859.5 L2791.6 868.1 Z" fill="#f6b21b"/><path d="M2890.5 865.0 L2899.1 856.4 L2907.7 865.0 L2899.1 873.6 Z" fill="#f6b21b"/><polyline points="2146.6,821.0 2254.1,800.0 2361.6,789.5 2469.1,781.0 2576.6,776.0 2684.1,759.6 2791.6,742.6 2899.1,736.4" fill="none" stroke="#966db5" stroke-width="2.6" stroke-linejoin="round"/><path d="M2138.0 821.0 L2146.6 812.4 L2155.2 821.0 L2146.6 829.6 Z" fill="#966db5"/><path d="M2245.5 800.0 L2254.1 791.4 L2262.7 800.0 L2254.1 808.6 Z" fill="#966db5"/><path d="M2353.0 789.5 L2361.6 780.9 L2370.2 789.5 L2361.6 798.1 Z" fill="#966db5"/><path d="M2460.5 781.0 L2469.1 772.4 L2477.7 781.0 L2469.1 789.6 Z" fill="#966db5"/><path d="M2568.0 776.0 L2576.6 767.4 L2585.2 776.0 L2576.6 784.6 Z" fill="#966db5"/><path d="M2675.5 759.6 L2684.1 751.0 L2692.7 759.6 L2684.1 768.2 Z" fill="#966db5"/><path d="M2783.0 742.6 L2791.6 734.0 L2800.2 742.6 L2791.6 751.2 Z" fill="#966db5"/><path d="M2890.5 736.4 L2899.1 727.8 L2907.7 736.4 L2899.1 745.0 Z" fill="#966db5"/><polyline points="2146.6,682.3 2254.1,693.0 2361.6,703.0 2469.1,718.0 2576.6,745.6 2684.1,775.0 2791.6,792.0 2899.1,796.7" fill="none" stroke="#44bfe3" stroke-width="2.6" stroke-linejoin="round"/><path d="M2138.0 682.3 L2146.6 673.7 L2155.2 682.3 L2146.6 690.9 Z" fill="#44bfe3"/><path d="M2245.5 693.0 L2254.1 684.4 L2262.7 693.0 L2254.1 701.6 Z" fill="#44bfe3"/><path d="M2353.0 703.0 L2361.6 694.4 L2370.2 703.0 L2361.6 711.6 Z" fill="#44bfe3"/><path d="M2460.5 718.0 L2469.1 709.4 L2477.7 718.0 L2469.1 726.6 Z" fill="#44bfe3"/><path d="M2568.0 745.6 L2576.6 737.0 L2585.2 745.6 L2576.6 754.2 Z" fill="#44bfe3"/><path d="M2675.5 775.0 L2684.1 766.4 L2692.7 775.0 L2684.1 783.6 Z" fill="#44bfe3"/><path d="M2783.0 792.0 L2791.6 783.4 L2800.2 792.0 L2791.6 800.6 Z" fill="#44bfe3"/><path d="M2890.5 796.7 L2899.1 788.1 L2907.7 796.7 L2899.1 805.3 Z" fill="#44bfe3"/><polyline points="2146.6,755.7 2254.1,739.3 2361.6,722.8 2469.1,706.0 2576.6,688.0 2684.1,657.0 2791.6,636.0 2899.1,628.0" fill="none" stroke="#dc59b3" stroke-width="2.6" stroke-linejoin="round"/><path d="M2138.0 755.7 L2146.6 747.1 L2155.2 755.7 L2146.6 764.3 Z" fill="#dc59b3"/><path d="M2245.5 739.3 L2254.1 730.7 L2262.7 739.3 L2254.1 747.9 Z" fill="#dc59b3"/><path d="M2353.0 722.8 L2361.6 714.2 L2370.2 722.8 L2361.6 731.4 Z" fill="#dc59b3"/><path d="M2460.5 706.0 L2469.1 697.4 L2477.7 706.0 L2469.1 714.6 Z" fill="#dc59b3"/><path d="M2568.0 688.0 L2576.6 679.4 L2585.2 688.0 L2576.6 696.6 Z" fill="#dc59b3"/><path d="M2675.5 657.0 L2684.1 648.4 L2692.7 657.0 L2684.1 665.6 Z" fill="#dc59b3"/><path d="M2783.0 636.0 L2791.6 627.4 L2800.2 636.0 L2791.6 644.6 Z" fill="#dc59b3"/><path d="M2890.5 628.0 L2899.1 619.4 L2907.7 628.0 L2899.1 636.6 Z" fill="#dc59b3"/><polyline points="2146.6,560.0 2254.1,566.0 2361.6,588.0 2469.1,604.0 2576.6,717.0 2684.1,802.5 2791.6,830.5 2899.1,836.8" fill="none" stroke="#3a4547" stroke-width="2.6" stroke-linejoin="round"/><path d="M2138.0 560.0 L2146.6 551.4 L2155.2 560.0 L2146.6 568.6 Z" fill="#3a4547"/><path d="M2245.5 566.0 L2254.1 557.4 L2262.7 566.0 L2254.1 574.6 Z" fill="#3a4547"/><path d="M2353.0 588.0 L2361.6 579.4 L2370.2 588.0 L2361.6 596.6 Z" fill="#3a4547"/><path d="M2460.5 604.0 L2469.1 595.4 L2477.7 604.0 L2469.1 612.6 Z" fill="#3a4547"/><path d="M2568.0 717.0 L2576.6 708.4 L2585.2 717.0 L2576.6 725.6 Z" fill="#3a4547"/><path d="M2675.5 802.5 L2684.1 793.9 L2692.7 802.5 L2684.1 811.1 Z" fill="#3a4547"/><path d="M2783.0 830.5 L2791.6 821.9 L2800.2 830.5 L2791.6 839.1 Z" fill="#3a4547"/><path d="M2890.5 836.8 L2899.1 828.2 L2907.7 836.8 L2899.1 845.4 Z" fill="#3a4547"/><line x1="3070.0" y1="549.5" x2="3894.0" y2="549.5" stroke="#cbcbcb" stroke-width="1.7" stroke-dasharray="3 8.5"/><line x1="3070.0" y1="757.0" x2="3894.0" y2="757.0" stroke="#cbcbcb" stroke-width="1.7" stroke-dasharray="3 8.5"/><line x1="3070.0" y1="964.3" x2="3894.0" y2="964.3" stroke="#cbcbcb" stroke-width="1.7" stroke-dasharray="3 8.5"/><text x="3046.5" y="557.7" font-family="Liberation Sans, sans-serif" font-size="23.0" fill="#333" text-anchor="end" font-weight="400" textLength="50.5" lengthAdjust="spacingAndGlyphs" >100%</text><text x="3046.5" y="765.2" font-family="Liberation Sans, sans-serif" font-size="23.0" fill="#333" text-anchor="end" font-weight="400" textLength="40.0" lengthAdjust="spacingAndGlyphs" >50%</text><text x="3046.5" y="972.5" font-family="Liberation Sans, sans-serif" font-size="23.0" fill="#333" text-anchor="end" font-weight="400" textLength="27.0" lengthAdjust="spacingAndGlyphs" >0%</text><rect x="3106.5" y="548.0" width="78.5" height="416.3" fill="#d9dcdc"/><rect x="3108.0" y="836.5" width="75.5" height="128.1" fill="#3a4547"/><text x="3145.8" y="907.6" font-family="Liberation Sans, sans-serif" font-size="20.0" fill="#eef0f0" text-anchor="middle" font-weight="400" textLength="47.5" lengthAdjust="spacingAndGlyphs" >30.8%</text><rect x="3108.0" y="771.0" width="75.5" height="65.8" fill="#dc59b3"/><text x="3145.8" y="811.0" font-family="Liberation Sans, sans-serif" font-size="20.0" fill="#eef0f0" text-anchor="middle" font-weight="400" textLength="47.5" lengthAdjust="spacingAndGlyphs" >15.8%</text><rect x="3108.0" y="706.7" width="75.5" height="64.6" fill="#f6b21b"/><text x="3145.8" y="746.1" font-family="Liberation Sans, sans-serif" font-size="20.0" fill="#eef0f0" text-anchor="middle" font-weight="400" textLength="47.5" lengthAdjust="spacingAndGlyphs" >15.5%</text><rect x="3108.0" y="617.5" width="75.5" height="89.5" fill="#44bfe3"/><text x="3145.8" y="669.3" font-family="Liberation Sans, sans-serif" font-size="20.0" fill="#eef0f0" text-anchor="middle" font-weight="400" textLength="47.5" lengthAdjust="spacingAndGlyphs" >21.5%</text><rect x="3108.0" y="594.7" width="75.5" height="23.1" fill="#fcc63a"/><rect x="3108.0" y="549.5" width="75.5" height="45.5" fill="#966db5"/><text x="3145.8" y="579.3" font-family="Liberation Sans, sans-serif" font-size="20.0" fill="#eef0f0" text-anchor="middle" font-weight="400" textLength="47.5" lengthAdjust="spacingAndGlyphs" >10.9%</text><rect x="3202.1" y="548.0" width="78.5" height="416.3" fill="#d9dcdc"/><rect x="3203.6" y="841.1" width="75.5" height="123.5" fill="#3a4547"/><text x="3241.3" y="909.9" font-family="Liberation Sans, sans-serif" font-size="20.0" fill="#eef0f0" text-anchor="middle" font-weight="400" textLength="47.5" lengthAdjust="spacingAndGlyphs" >29.7%</text><rect x="3203.6" y="772.2" width="75.5" height="69.2" fill="#dc59b3"/><text x="3241.3" y="813.9" font-family="Liberation Sans, sans-serif" font-size="20.0" fill="#eef0f0" text-anchor="middle" font-weight="400" textLength="47.5" lengthAdjust="spacingAndGlyphs" >16.6%</text><rect x="3203.6" y="710.9" width="75.5" height="61.7" fill="#f6b21b"/><text x="3241.3" y="748.8" font-family="Liberation Sans, sans-serif" font-size="20.0" fill="#eef0f0" text-anchor="middle" font-weight="400" textLength="47.5" lengthAdjust="spacingAndGlyphs" >14.8%</text><rect x="3203.6" y="627.1" width="75.5" height="84.1" fill="#44bfe3"/><text x="3241.3" y="676.2" font-family="Liberation Sans, sans-serif" font-size="20.0" fill="#eef0f0" text-anchor="middle" font-weight="400" textLength="47.5" lengthAdjust="spacingAndGlyphs" >20.2%</text><rect x="3203.6" y="600.1" width="75.5" height="27.3" fill="#fcc63a"/><text x="3241.3" y="620.8" font-family="Liberation Sans, sans-serif" font-size="20.0" fill="#eef0f0" text-anchor="middle" font-weight="400" textLength="38.0" lengthAdjust="spacingAndGlyphs" >6.5%</text><rect x="3203.6" y="549.5" width="75.5" height="50.9" fill="#966db5"/><text x="3241.3" y="582.0" font-family="Liberation Sans, sans-serif" font-size="20.0" fill="#eef0f0" text-anchor="middle" font-weight="400" textLength="47.5" lengthAdjust="spacingAndGlyphs" >12.2%</text><rect x="3297.6" y="548.0" width="78.5" height="416.3" fill="#d9dcdc"/><rect x="3299.1" y="848.2" width="75.5" height="116.4" fill="#3a4547"/><text x="3336.8" y="913.4" font-family="Liberation Sans, sans-serif" font-size="20.0" fill="#eef0f0" text-anchor="middle" font-weight="400" textLength="47.5" lengthAdjust="spacingAndGlyphs" >28.0%</text><rect x="3299.1" y="773.5" width="75.5" height="75.0" fill="#dc59b3"/><text x="3336.8" y="818.0" font-family="Liberation Sans, sans-serif" font-size="20.0" fill="#eef0f0" text-anchor="middle" font-weight="400" textLength="47.5" lengthAdjust="spacingAndGlyphs" >18.0%</text><rect x="3299.1" y="715.0" width="75.5" height="58.8" fill="#f6b21b"/><text x="3336.8" y="751.4" font-family="Liberation Sans, sans-serif" font-size="20.0" fill="#eef0f0" text-anchor="middle" font-weight="400" textLength="47.5" lengthAdjust="spacingAndGlyphs" >14.1%</text><rect x="3299.1" y="634.5" width="75.5" height="80.8" fill="#44bfe3"/><text x="3336.8" y="682.0" font-family="Liberation Sans, sans-serif" font-size="20.0" fill="#eef0f0" text-anchor="middle" font-weight="400" textLength="47.5" lengthAdjust="spacingAndGlyphs" >19.4%</text><rect x="3299.1" y="603.8" width="75.5" height="31.0" fill="#fcc63a"/><text x="3336.8" y="626.4" font-family="Liberation Sans, sans-serif" font-size="20.0" fill="#eef0f0" text-anchor="middle" font-weight="400" textLength="38.0" lengthAdjust="spacingAndGlyphs" >7.4%</text><rect x="3299.1" y="549.5" width="75.5" height="54.6" fill="#966db5"/><text x="3336.8" y="583.9" font-family="Liberation Sans, sans-serif" font-size="20.0" fill="#eef0f0" text-anchor="middle" font-weight="400" textLength="47.5" lengthAdjust="spacingAndGlyphs" >13.1%</text><rect x="3393.2" y="548.0" width="78.5" height="416.3" fill="#d9dcdc"/><rect x="3394.7" y="853.1" width="75.5" height="111.5" fill="#3a4547"/><text x="3432.4" y="915.9" font-family="Liberation Sans, sans-serif" font-size="20.0" fill="#eef0f0" text-anchor="middle" font-weight="400" textLength="47.5" lengthAdjust="spacingAndGlyphs" >26.8%</text><rect x="3394.7" y="773.5" width="75.5" height="79.9" fill="#dc59b3"/><text x="3432.4" y="820.5" font-family="Liberation Sans, sans-serif" font-size="20.0" fill="#eef0f0" text-anchor="middle" font-weight="400" textLength="47.5" lengthAdjust="spacingAndGlyphs" >19.2%</text><rect x="3394.7" y="715.8" width="75.5" height="58.0" fill="#f6b21b"/><text x="3432.4" y="751.9" font-family="Liberation Sans, sans-serif" font-size="20.0" fill="#eef0f0" text-anchor="middle" font-weight="400" textLength="47.5" lengthAdjust="spacingAndGlyphs" >13.9%</text><rect x="3394.7" y="639.9" width="75.5" height="76.2" fill="#44bfe3"/><text x="3432.4" y="685.1" font-family="Liberation Sans, sans-serif" font-size="20.0" fill="#eef0f0" text-anchor="middle" font-weight="400" textLength="47.5" lengthAdjust="spacingAndGlyphs" >18.3%</text><rect x="3394.7" y="605.5" width="75.5" height="34.7" fill="#fcc63a"/><text x="3432.4" y="629.9" font-family="Liberation Sans, sans-serif" font-size="20.0" fill="#eef0f0" text-anchor="middle" font-weight="400" textLength="38.0" lengthAdjust="spacingAndGlyphs" >8.3%</text><rect x="3394.7" y="549.5" width="75.5" height="56.3" fill="#966db5"/><text x="3432.4" y="584.7" font-family="Liberation Sans, sans-serif" font-size="20.0" fill="#eef0f0" text-anchor="middle" font-weight="400" textLength="47.5" lengthAdjust="spacingAndGlyphs" >13.5%</text><rect x="3488.7" y="548.0" width="78.5" height="416.3" fill="#d9dcdc"/><rect x="3490.2" y="883.4" width="75.5" height="81.2" fill="#3a4547"/><text x="3527.9" y="931.1" font-family="Liberation Sans, sans-serif" font-size="20.0" fill="#eef0f0" text-anchor="middle" font-weight="400" textLength="47.5" lengthAdjust="spacingAndGlyphs" >19.5%</text><rect x="3490.2" y="793.0" width="75.5" height="90.7" fill="#dc59b3"/><text x="3527.9" y="845.4" font-family="Liberation Sans, sans-serif" font-size="20.0" fill="#eef0f0" text-anchor="middle" font-weight="400" textLength="47.5" lengthAdjust="spacingAndGlyphs" >21.8%</text><rect x="3490.2" y="734.1" width="75.5" height="59.2" fill="#f6b21b"/><text x="3527.9" y="770.7" font-family="Liberation Sans, sans-serif" font-size="20.0" fill="#eef0f0" text-anchor="middle" font-weight="400" textLength="47.5" lengthAdjust="spacingAndGlyphs" >14.2%</text><rect x="3490.2" y="662.7" width="75.5" height="71.6" fill="#44bfe3"/><text x="3527.9" y="705.6" font-family="Liberation Sans, sans-serif" font-size="20.0" fill="#eef0f0" text-anchor="middle" font-weight="400" textLength="47.5" lengthAdjust="spacingAndGlyphs" >17.2%</text><rect x="3490.2" y="610.9" width="75.5" height="52.1" fill="#fcc63a"/><text x="3527.9" y="644.0" font-family="Liberation Sans, sans-serif" font-size="20.0" fill="#eef0f0" text-anchor="middle" font-weight="400" textLength="47.5" lengthAdjust="spacingAndGlyphs" >12.5%</text><rect x="3490.2" y="549.5" width="75.5" height="61.7" fill="#966db5"/><text x="3527.9" y="587.4" font-family="Liberation Sans, sans-serif" font-size="20.0" fill="#eef0f0" text-anchor="middle" font-weight="400" textLength="47.5" lengthAdjust="spacingAndGlyphs" >14.8%</text><rect x="3584.2" y="548.0" width="78.5" height="416.3" fill="#d9dcdc"/><rect x="3585.8" y="908.2" width="75.5" height="56.4" fill="#3a4547"/><text x="3623.5" y="943.5" font-family="Liberation Sans, sans-serif" font-size="20.0" fill="#eef0f0" text-anchor="middle" font-weight="400" textLength="47.5" lengthAdjust="spacingAndGlyphs" >13.5%</text><rect x="3585.8" y="801.5" width="75.5" height="107.0" fill="#dc59b3"/><text x="3623.5" y="862.1" font-family="Liberation Sans, sans-serif" font-size="20.0" fill="#eef0f0" text-anchor="middle" font-weight="400" textLength="47.5" lengthAdjust="spacingAndGlyphs" >25.7%</text><rect x="3585.8" y="754.6" width="75.5" height="47.2" fill="#f6b21b"/><text x="3623.5" y="785.3" font-family="Liberation Sans, sans-serif" font-size="20.0" fill="#eef0f0" text-anchor="middle" font-weight="400" textLength="47.5" lengthAdjust="spacingAndGlyphs" >11.3%</text><rect x="3585.8" y="689.0" width="75.5" height="65.9" fill="#44bfe3"/><text x="3623.5" y="729.0" font-family="Liberation Sans, sans-serif" font-size="20.0" fill="#eef0f0" text-anchor="middle" font-weight="400" textLength="47.5" lengthAdjust="spacingAndGlyphs" >15.8%</text><rect x="3585.8" y="620.5" width="75.5" height="68.8" fill="#fcc63a"/><text x="3623.5" y="662.0" font-family="Liberation Sans, sans-serif" font-size="20.0" fill="#eef0f0" text-anchor="middle" font-weight="400" textLength="47.5" lengthAdjust="spacingAndGlyphs" >16.5%</text><rect x="3585.8" y="549.5" width="75.5" height="71.3" fill="#966db5"/><text x="3623.5" y="592.2" font-family="Liberation Sans, sans-serif" font-size="20.0" fill="#eef0f0" text-anchor="middle" font-weight="400" textLength="47.5" lengthAdjust="spacingAndGlyphs" >17.1%</text><rect x="3679.8" y="548.0" width="78.5" height="416.3" fill="#d9dcdc"/><rect x="3681.3" y="917.8" width="75.5" height="46.8" fill="#3a4547"/><text x="3719.1" y="948.2" font-family="Liberation Sans, sans-serif" font-size="20.0" fill="#eef0f0" text-anchor="middle" font-weight="400" textLength="47.5" lengthAdjust="spacingAndGlyphs" >11.2%</text><rect x="3681.3" y="802.4" width="75.5" height="115.7" fill="#dc59b3"/><text x="3719.1" y="867.3" font-family="Liberation Sans, sans-serif" font-size="20.0" fill="#eef0f0" text-anchor="middle" font-weight="400" textLength="47.5" lengthAdjust="spacingAndGlyphs" >27.8%</text><rect x="3681.3" y="766.2" width="75.5" height="36.4" fill="#f6b21b"/><text x="3719.1" y="791.5" font-family="Liberation Sans, sans-serif" font-size="20.0" fill="#eef0f0" text-anchor="middle" font-weight="400" textLength="38.0" lengthAdjust="spacingAndGlyphs" >8.7%</text><rect x="3681.3" y="705.6" width="75.5" height="60.9" fill="#44bfe3"/><text x="3719.1" y="743.1" font-family="Liberation Sans, sans-serif" font-size="20.0" fill="#eef0f0" text-anchor="middle" font-weight="400" textLength="47.5" lengthAdjust="spacingAndGlyphs" >14.6%</text><rect x="3681.3" y="627.1" width="75.5" height="78.8" fill="#fcc63a"/><text x="3719.1" y="673.6" font-family="Liberation Sans, sans-serif" font-size="20.0" fill="#eef0f0" text-anchor="middle" font-weight="400" textLength="47.5" lengthAdjust="spacingAndGlyphs" >18.9%</text><rect x="3681.3" y="549.5" width="75.5" height="77.9" fill="#966db5"/><text x="3719.1" y="595.5" font-family="Liberation Sans, sans-serif" font-size="20.0" fill="#eef0f0" text-anchor="middle" font-weight="400" textLength="47.5" lengthAdjust="spacingAndGlyphs" >18.7%</text><rect x="3775.3" y="548.0" width="78.5" height="416.3" fill="#d9dcdc"/><rect x="3776.8" y="920.7" width="75.5" height="43.9" fill="#3a4547"/><text x="3814.6" y="949.7" font-family="Liberation Sans, sans-serif" font-size="20.0" fill="#eef0f0" text-anchor="middle" font-weight="400" textLength="47.5" lengthAdjust="spacingAndGlyphs" >10.5%</text><rect x="3776.8" y="803.8" width="75.5" height="117.3" fill="#dc59b3"/><text x="3814.6" y="869.5" font-family="Liberation Sans, sans-serif" font-size="20.0" fill="#eef0f0" text-anchor="middle" font-weight="400" textLength="47.5" lengthAdjust="spacingAndGlyphs" >28.2%</text><rect x="3776.8" y="769.8" width="75.5" height="34.3" fill="#f6b21b"/><text x="3814.6" y="794.0" font-family="Liberation Sans, sans-serif" font-size="20.0" fill="#eef0f0" text-anchor="middle" font-weight="400" textLength="38.0" lengthAdjust="spacingAndGlyphs" >8.2%</text><rect x="3776.8" y="711.7" width="75.5" height="58.4" fill="#44bfe3"/><text x="3814.6" y="747.9" font-family="Liberation Sans, sans-serif" font-size="20.0" fill="#eef0f0" text-anchor="middle" font-weight="400" textLength="47.5" lengthAdjust="spacingAndGlyphs" >14.0%</text><rect x="3776.8" y="628.3" width="75.5" height="83.7" fill="#fcc63a"/><text x="3814.6" y="677.2" font-family="Liberation Sans, sans-serif" font-size="20.0" fill="#eef0f0" text-anchor="middle" font-weight="400" textLength="47.5" lengthAdjust="spacingAndGlyphs" >20.1%</text><rect x="3776.8" y="549.5" width="75.5" height="79.1" fill="#966db5"/><text x="3814.6" y="596.1" font-family="Liberation Sans, sans-serif" font-size="20.0" fill="#eef0f0" text-anchor="middle" font-weight="400" textLength="47.5" lengthAdjust="spacingAndGlyphs" >19.0%</text><text x="3145.8" y="998.8" font-family="Liberation Sans, sans-serif" font-size="23.6" fill="#2c2c2c" text-anchor="middle" font-weight="400" textLength="47.5" lengthAdjust="spacingAndGlyphs" >2019</text><text x="3241.3" y="998.8" font-family="Liberation Sans, sans-serif" font-size="23.6" fill="#2c2c2c" text-anchor="middle" font-weight="400" textLength="47.5" lengthAdjust="spacingAndGlyphs" >2020</text><text x="3336.8" y="998.8" font-family="Liberation Sans, sans-serif" font-size="23.6" fill="#2c2c2c" text-anchor="middle" font-weight="400" textLength="47.5" lengthAdjust="spacingAndGlyphs" >2021</text><text x="3432.4" y="998.8" font-family="Liberation Sans, sans-serif" font-size="23.6" fill="#2c2c2c" text-anchor="middle" font-weight="400" textLength="47.5" lengthAdjust="spacingAndGlyphs" >2022</text><text x="3527.9" y="998.8" font-family="Liberation Sans, sans-serif" font-size="23.6" fill="#2c2c2c" text-anchor="middle" font-weight="400" textLength="47.5" lengthAdjust="spacingAndGlyphs" >2023</text><text x="3623.5" y="998.8" font-family="Liberation Sans, sans-serif" font-size="23.6" fill="#2c2c2c" text-anchor="middle" font-weight="400" textLength="47.5" lengthAdjust="spacingAndGlyphs" >2024</text><text x="3719.1" y="998.8" font-family="Liberation Sans, sans-serif" font-size="23.6" fill="#2c2c2c" text-anchor="middle" font-weight="400" textLength="47.5" lengthAdjust="spacingAndGlyphs" >2025</text><text x="3814.6" y="998.8" font-family="Liberation Sans, sans-serif" font-size="23.6" fill="#2c2c2c" text-anchor="middle" font-weight="400" textLength="47.5" lengthAdjust="spacingAndGlyphs" >2026</text></svg>
<svg class="abs" style="left:2040px;top:1315px" width="1876" height="569" viewBox="2040 1315 1876 569"><rect x="2040" y="1315" width="1876" height="569" fill="#3a4547"/><rect x="2040" y="1397.2" width="928" height="486.8" fill="#f5f5f5"/><path d="M2040 1351.5 H2967 V1396" fill="none" stroke="#a3abad" stroke-width="2.2"/><path d="M2967 1396 V1884" fill="none" stroke="#d5d8d8" stroke-width="3"/><text x="2502.5" y="1381.8" font-family="Liberation Sans, sans-serif" font-size="32.0" fill="#e3e6e6" text-anchor="middle" font-weight="400" textLength="554.5" lengthAdjust="spacingAndGlyphs" >Total Gross Revenue (SC) by Year by Product</text><rect x="2992" y="1397" width="919.8" height="487" fill="#f5f5f5"/><path d="M2993.5 1884 V1351.5 H3911.8" fill="none" stroke="#a3abad" stroke-width="2.2"/><text x="3456.6" y="1381.8" font-family="Liberation Sans, sans-serif" font-size="32.0" fill="#e3e6e6" text-anchor="middle" font-weight="400" textLength="633.0" lengthAdjust="spacingAndGlyphs" >Total Gross Revenue (SC) Mix % by Year by Product</text><line x1="2118.0" y1="1530.8" x2="2952.0" y2="1530.8" stroke="#cbcbcb" stroke-width="1.7" stroke-dasharray="3 8.5"/><line x1="2118.0" y1="1679.0" x2="2952.0" y2="1679.0" stroke="#cbcbcb" stroke-width="1.7" stroke-dasharray="3 8.5"/><line x1="2118.0" y1="1827.9" x2="2952.0" y2="1827.9" stroke="#cbcbcb" stroke-width="1.7" stroke-dasharray="3 8.5"/><text x="2100.0" y="1539.0" font-family="Liberation Sans, sans-serif" font-size="23.0" fill="#444" text-anchor="end" font-weight="400" textLength="50.5" lengthAdjust="spacingAndGlyphs" >1.0bn</text><text x="2100.0" y="1687.2" font-family="Liberation Sans, sans-serif" font-size="23.0" fill="#444" text-anchor="end" font-weight="400" textLength="50.5" lengthAdjust="spacingAndGlyphs" >0.5bn</text><text x="2100.0" y="1836.1" font-family="Liberation Sans, sans-serif" font-size="23.0" fill="#444" text-anchor="end" font-weight="400" textLength="50.5" lengthAdjust="spacingAndGlyphs" >0.0bn</text><text x="2165.0" y="1862.5" font-family="Liberation Sans, sans-serif" font-size="23.6" fill="#2c2c2c" text-anchor="middle" font-weight="400" textLength="47.5" lengthAdjust="spacingAndGlyphs" >2019</text><text x="2272.2" y="1862.5" font-family="Liberation Sans, sans-serif" font-size="23.6" fill="#2c2c2c" text-anchor="middle" font-weight="400" textLength="47.5" lengthAdjust="spacingAndGlyphs" >2020</text><text x="2379.3" y="1862.5" font-family="Liberation Sans, sans-serif" font-size="23.6" fill="#2c2c2c" text-anchor="middle" font-weight="400" textLength="47.5" lengthAdjust="spacingAndGlyphs" >2021</text><text x="2486.4" y="1862.5" font-family="Liberation Sans, sans-serif" font-size="23.6" fill="#2c2c2c" text-anchor="middle" font-weight="400" textLength="47.5" lengthAdjust="spacingAndGlyphs" >2022</text><text x="2593.6" y="1862.5" font-family="Liberation Sans, sans-serif" font-size="23.6" fill="#2c2c2c" text-anchor="middle" font-weight="400" textLength="47.5" lengthAdjust="spacingAndGlyphs" >2023</text><text x="2700.8" y="1862.5" font-family="Liberation Sans, sans-serif" font-size="23.6" fill="#2c2c2c" text-anchor="middle" font-weight="400" textLength="47.5" lengthAdjust="spacingAndGlyphs" >2024</text><text x="2807.9" y="1862.5" font-family="Liberation Sans, sans-serif" font-size="23.6" fill="#2c2c2c" text-anchor="middle" font-weight="400" textLength="47.5" lengthAdjust="spacingAndGlyphs" >2025</text><text x="2915.1" y="1862.5" font-family="Liberation Sans, sans-serif" font-size="23.6" fill="#2c2c2c" text-anchor="middle" font-weight="400" textLength="47.5" lengthAdjust="spacingAndGlyphs" >2026</text><clipPath id="cp2"><rect x="2040" y="1396" width="928" height="433"/></clipPath><g clip-path="url(#cp2)"><polyline points="2165.0,1827.9 2272.2,1827.9 2379.3,1827.9 2486.4,1827.9 2593.6,1827.9 2700.8,1827.5 2807.9,1823.0 2915.1,1821.6" fill="none" stroke="#e9c2c9" stroke-width="2.6" stroke-linejoin="round"/><path d="M2156.4 1827.9 L2165.0 1819.3 L2173.6 1827.9 L2165.0 1836.5 Z" fill="#e9c2c9"/><path d="M2263.6 1827.9 L2272.2 1819.3 L2280.8 1827.9 L2272.2 1836.5 Z" fill="#e9c2c9"/><path d="M2370.7 1827.9 L2379.3 1819.3 L2387.9 1827.9 L2379.3 1836.5 Z" fill="#e9c2c9"/><path d="M2477.8 1827.9 L2486.4 1819.3 L2495.0 1827.9 L2486.4 1836.5 Z" fill="#e9c2c9"/><path d="M2585.0 1827.9 L2593.6 1819.3 L2602.2 1827.9 L2593.6 1836.5 Z" fill="#e9c2c9"/><path d="M2692.2 1827.5 L2700.8 1818.9 L2709.3 1827.5 L2700.8 1836.1 Z" fill="#e9c2c9"/><path d="M2799.3 1823.0 L2807.9 1814.4 L2816.5 1823.0 L2807.9 1831.6 Z" fill="#e9c2c9"/><path d="M2906.5 1821.6 L2915.1 1813.0 L2923.7 1821.6 L2915.1 1830.2 Z" fill="#e9c2c9"/><polyline points="2165.0,1715.0 2272.2,1712.0 2379.3,1709.0 2486.4,1705.0 2593.6,1703.7 2700.8,1711.0 2807.9,1730.0 2915.1,1745.7" fill="none" stroke="#966db5" stroke-width="2.6" stroke-linejoin="round"/><path d="M2156.4 1715.0 L2165.0 1706.4 L2173.6 1715.0 L2165.0 1723.6 Z" fill="#966db5"/><path d="M2263.6 1712.0 L2272.2 1703.4 L2280.8 1712.0 L2272.2 1720.6 Z" fill="#966db5"/><path d="M2370.7 1709.0 L2379.3 1700.4 L2387.9 1709.0 L2379.3 1717.6 Z" fill="#966db5"/><path d="M2477.8 1705.0 L2486.4 1696.4 L2495.0 1705.0 L2486.4 1713.6 Z" fill="#966db5"/><path d="M2585.0 1703.7 L2593.6 1695.1 L2602.2 1703.7 L2593.6 1712.3 Z" fill="#966db5"/><path d="M2692.2 1711.0 L2700.8 1702.4 L2709.3 1711.0 L2700.8 1719.6 Z" fill="#966db5"/><path d="M2799.3 1730.0 L2807.9 1721.4 L2816.5 1730.0 L2807.9 1738.6 Z" fill="#966db5"/><path d="M2906.5 1745.7 L2915.1 1737.1 L2923.7 1745.7 L2915.1 1754.3 Z" fill="#966db5"/><polyline points="2165.0,1568.0 2272.2,1585.0 2379.3,1604.0 2486.4,1619.7 2593.6,1626.5 2700.8,1623.6 2807.9,1642.4 2915.1,1668.5" fill="none" stroke="#44bfe3" stroke-width="2.6" stroke-linejoin="round"/><path d="M2156.4 1568.0 L2165.0 1559.4 L2173.6 1568.0 L2165.0 1576.6 Z" fill="#44bfe3"/><path d="M2263.6 1585.0 L2272.2 1576.4 L2280.8 1585.0 L2272.2 1593.6 Z" fill="#44bfe3"/><path d="M2370.7 1604.0 L2379.3 1595.4 L2387.9 1604.0 L2379.3 1612.6 Z" fill="#44bfe3"/><path d="M2477.8 1619.7 L2486.4 1611.1 L2495.0 1619.7 L2486.4 1628.3 Z" fill="#44bfe3"/><path d="M2585.0 1626.5 L2593.6 1617.9 L2602.2 1626.5 L2593.6 1635.1 Z" fill="#44bfe3"/><path d="M2692.2 1623.6 L2700.8 1615.0 L2709.3 1623.6 L2700.8 1632.2 Z" fill="#44bfe3"/><path d="M2799.3 1642.4 L2807.9 1633.8 L2816.5 1642.4 L2807.9 1651.0 Z" fill="#44bfe3"/><path d="M2906.5 1668.5 L2915.1 1659.9 L2923.7 1668.5 L2915.1 1677.1 Z" fill="#44bfe3"/><polyline points="2165.0,1827.9 2272.2,1827.9 2379.3,1827.9 2486.4,1827.9 2593.6,1827.5 2700.8,1791.0 2807.9,1695.0 2915.1,1597.0" fill="none" stroke="#dc59b3" stroke-width="2.6" stroke-linejoin="round"/><path d="M2156.4 1827.9 L2165.0 1819.3 L2173.6 1827.9 L2165.0 1836.5 Z" fill="#dc59b3"/><path d="M2263.6 1827.9 L2272.2 1819.3 L2280.8 1827.9 L2272.2 1836.5 Z" fill="#dc59b3"/><path d="M2370.7 1827.9 L2379.3 1819.3 L2387.9 1827.9 L2379.3 1836.5 Z" fill="#dc59b3"/><path d="M2477.8 1827.9 L2486.4 1819.3 L2495.0 1827.9 L2486.4 1836.5 Z" fill="#dc59b3"/><path d="M2585.0 1827.5 L2593.6 1818.9 L2602.2 1827.5 L2593.6 1836.1 Z" fill="#dc59b3"/><path d="M2692.2 1791.0 L2700.8 1782.4 L2709.3 1791.0 L2700.8 1799.6 Z" fill="#dc59b3"/><path d="M2799.3 1695.0 L2807.9 1686.4 L2816.5 1695.0 L2807.9 1703.6 Z" fill="#dc59b3"/><path d="M2906.5 1597.0 L2915.1 1588.4 L2923.7 1597.0 L2915.1 1605.6 Z" fill="#dc59b3"/><polyline points="2165.0,1827.5 2272.2,1827.5 2379.3,1827.5 2486.4,1827.5 2593.6,1827.5 2700.8,1820.6 2807.9,1776.0 2915.1,1720.0" fill="none" stroke="#2b99ba" stroke-width="2.6" stroke-linejoin="round"/><path d="M2156.4 1827.5 L2165.0 1818.9 L2173.6 1827.5 L2165.0 1836.1 Z" fill="#2b99ba"/><path d="M2263.6 1827.5 L2272.2 1818.9 L2280.8 1827.5 L2272.2 1836.1 Z" fill="#2b99ba"/><path d="M2370.7 1827.5 L2379.3 1818.9 L2387.9 1827.5 L2379.3 1836.1 Z" fill="#2b99ba"/><path d="M2477.8 1827.5 L2486.4 1818.9 L2495.0 1827.5 L2486.4 1836.1 Z" fill="#2b99ba"/><path d="M2585.0 1827.5 L2593.6 1818.9 L2602.2 1827.5 L2593.6 1836.1 Z" fill="#2b99ba"/><path d="M2692.2 1820.6 L2700.8 1812.0 L2709.3 1820.6 L2700.8 1829.2 Z" fill="#2b99ba"/><path d="M2799.3 1776.0 L2807.9 1767.4 L2816.5 1776.0 L2807.9 1784.6 Z" fill="#2b99ba"/><path d="M2906.5 1720.0 L2915.1 1711.4 L2923.7 1720.0 L2915.1 1728.6 Z" fill="#2b99ba"/><polyline points="2165.0,1602.0 2272.2,1560.8 2379.3,1509.6 2486.4,1493.0 2593.6,1492.0 2700.8,1582.5 2807.9,1666.5 2915.1,1708.0" fill="none" stroke="#f1a13d" stroke-width="2.6" stroke-linejoin="round"/><path d="M2156.4 1602.0 L2165.0 1593.4 L2173.6 1602.0 L2165.0 1610.6 Z" fill="#f1a13d"/><path d="M2263.6 1560.8 L2272.2 1552.2 L2280.8 1560.8 L2272.2 1569.4 Z" fill="#f1a13d"/><path d="M2370.7 1509.6 L2379.3 1501.0 L2387.9 1509.6 L2379.3 1518.2 Z" fill="#f1a13d"/><path d="M2477.8 1493.0 L2486.4 1484.4 L2495.0 1493.0 L2486.4 1501.6 Z" fill="#f1a13d"/><path d="M2585.0 1492.0 L2593.6 1483.4 L2602.2 1492.0 L2593.6 1500.6 Z" fill="#f1a13d"/><path d="M2692.2 1582.5 L2700.8 1573.9 L2709.3 1582.5 L2700.8 1591.1 Z" fill="#f1a13d"/><path d="M2799.3 1666.5 L2807.9 1657.9 L2816.5 1666.5 L2807.9 1675.1 Z" fill="#f1a13d"/><path d="M2906.5 1708.0 L2915.1 1699.4 L2923.7 1708.0 L2915.1 1716.6 Z" fill="#f1a13d"/><polyline points="2165.0,1427.0 2272.2,1447.3 2379.3,1470.5 2486.4,1478.7 2593.6,1563.0 2700.8,1627.4 2807.9,1664.6 2915.1,1691.7" fill="none" stroke="#3a4547" stroke-width="2.6" stroke-linejoin="round"/><path d="M2156.4 1427.0 L2165.0 1418.4 L2173.6 1427.0 L2165.0 1435.6 Z" fill="#3a4547"/><path d="M2263.6 1447.3 L2272.2 1438.7 L2280.8 1447.3 L2272.2 1455.9 Z" fill="#3a4547"/><path d="M2370.7 1470.5 L2379.3 1461.9 L2387.9 1470.5 L2379.3 1479.1 Z" fill="#3a4547"/><path d="M2477.8 1478.7 L2486.4 1470.1 L2495.0 1478.7 L2486.4 1487.3 Z" fill="#3a4547"/><path d="M2585.0 1563.0 L2593.6 1554.4 L2602.2 1563.0 L2593.6 1571.6 Z" fill="#3a4547"/><path d="M2692.2 1627.4 L2700.8 1618.8 L2709.3 1627.4 L2700.8 1636.0 Z" fill="#3a4547"/><path d="M2799.3 1664.6 L2807.9 1656.0 L2816.5 1664.6 L2807.9 1673.2 Z" fill="#3a4547"/><path d="M2906.5 1691.7 L2915.1 1683.1 L2923.7 1691.7 L2915.1 1700.3 Z" fill="#3a4547"/></g><line x1="3082.0" y1="1418.3" x2="3912.0" y2="1418.3" stroke="#cbcbcb" stroke-width="1.7" stroke-dasharray="3 8.5"/><line x1="3082.0" y1="1622.3" x2="3912.0" y2="1622.3" stroke="#cbcbcb" stroke-width="1.7" stroke-dasharray="3 8.5"/><line x1="3082.0" y1="1826.4" x2="3912.0" y2="1826.4" stroke="#cbcbcb" stroke-width="1.7" stroke-dasharray="3 8.5"/><text x="3061.5" y="1426.5" font-family="Liberation Sans, sans-serif" font-size="23.0" fill="#333" text-anchor="end" font-weight="400" textLength="50.5" lengthAdjust="spacingAndGlyphs" >100%</text><text x="3061.5" y="1630.5" font-family="Liberation Sans, sans-serif" font-size="23.0" fill="#333" text-anchor="end" font-weight="400" textLength="40.0" lengthAdjust="spacingAndGlyphs" >50%</text><text x="3061.5" y="1834.6" font-family="Liberation Sans, sans-serif" font-size="23.0" fill="#333" text-anchor="end" font-weight="400" textLength="27.0" lengthAdjust="spacingAndGlyphs" >0%</text><rect x="3121.5" y="1416.8" width="78.0" height="409.6" fill="#d9dcdc"/><rect x="3123.0" y="1662.5" width="75.0" height="164.2" fill="#3a4547"/><text x="3160.5" y="1751.7" font-family="Liberation Sans, sans-serif" font-size="20.0" fill="#eef0f0" text-anchor="middle" font-weight="400" textLength="47.5" lengthAdjust="spacingAndGlyphs" >40.2%</text><rect x="3123.0" y="1556.1" width="75.0" height="106.7" fill="#44bfe3"/><text x="3160.5" y="1616.5" font-family="Liberation Sans, sans-serif" font-size="20.0" fill="#eef0f0" text-anchor="middle" font-weight="400" textLength="47.5" lengthAdjust="spacingAndGlyphs" >26.1%</text><rect x="3123.0" y="1464.0" width="75.0" height="92.4" fill="#f1a13d"/><text x="3160.5" y="1517.2" font-family="Liberation Sans, sans-serif" font-size="20.0" fill="#eef0f0" text-anchor="middle" font-weight="400" textLength="47.5" lengthAdjust="spacingAndGlyphs" >22.6%</text><rect x="3123.0" y="1418.3" width="75.0" height="46.0" fill="#966db5"/><text x="3160.5" y="1448.3" font-family="Liberation Sans, sans-serif" font-size="20.0" fill="#eef0f0" text-anchor="middle" font-weight="400" textLength="47.5" lengthAdjust="spacingAndGlyphs" >11.2%</text><rect x="3216.6" y="1416.8" width="78.0" height="409.6" fill="#d9dcdc"/><rect x="3218.1" y="1671.7" width="75.0" height="155.0" fill="#3a4547"/><text x="3255.6" y="1756.3" font-family="Liberation Sans, sans-serif" font-size="20.0" fill="#eef0f0" text-anchor="middle" font-weight="400" textLength="47.5" lengthAdjust="spacingAndGlyphs" >37.9%</text><rect x="3218.1" y="1573.0" width="75.0" height="99.1" fill="#44bfe3"/><text x="3255.6" y="1629.5" font-family="Liberation Sans, sans-serif" font-size="20.0" fill="#eef0f0" text-anchor="middle" font-weight="400" textLength="47.5" lengthAdjust="spacingAndGlyphs" >24.2%</text><rect x="3218.1" y="1464.8" width="75.0" height="108.4" fill="#f1a13d"/><text x="3255.6" y="1526.1" font-family="Liberation Sans, sans-serif" font-size="20.0" fill="#eef0f0" text-anchor="middle" font-weight="400" textLength="47.5" lengthAdjust="spacingAndGlyphs" >26.5%</text><rect x="3218.1" y="1418.3" width="75.0" height="46.8" fill="#966db5"/><text x="3255.6" y="1448.8" font-family="Liberation Sans, sans-serif" font-size="20.0" fill="#eef0f0" text-anchor="middle" font-weight="400" textLength="47.5" lengthAdjust="spacingAndGlyphs" >11.4%</text><rect x="3311.7" y="1416.8" width="78.0" height="409.6" fill="#d9dcdc"/><rect x="3313.2" y="1682.9" width="75.0" height="143.8" fill="#3a4547"/><text x="3350.7" y="1761.8" font-family="Liberation Sans, sans-serif" font-size="20.0" fill="#eef0f0" text-anchor="middle" font-weight="400" textLength="47.5" lengthAdjust="spacingAndGlyphs" >35.2%</text><rect x="3313.2" y="1593.2" width="75.0" height="90.0" fill="#44bfe3"/><text x="3350.7" y="1645.2" font-family="Liberation Sans, sans-serif" font-size="20.0" fill="#eef0f0" text-anchor="middle" font-weight="400" textLength="47.5" lengthAdjust="spacingAndGlyphs" >22.0%</text><rect x="3313.2" y="1465.6" width="75.0" height="127.9" fill="#f1a13d"/><text x="3350.7" y="1536.6" font-family="Liberation Sans, sans-serif" font-size="20.0" fill="#eef0f0" text-anchor="middle" font-weight="400" textLength="47.5" lengthAdjust="spacingAndGlyphs" >31.3%</text><rect x="3313.2" y="1418.3" width="75.0" height="47.6" fill="#966db5"/><text x="3350.7" y="1449.1" font-family="Liberation Sans, sans-serif" font-size="20.0" fill="#eef0f0" text-anchor="middle" font-weight="400" textLength="47.5" lengthAdjust="spacingAndGlyphs" >11.6%</text><rect x="3406.8" y="1416.8" width="78.0" height="409.6" fill="#d9dcdc"/><rect x="3408.3" y="1686.0" width="75.0" height="140.7" fill="#3a4547"/><text x="3445.8" y="1763.4" font-family="Liberation Sans, sans-serif" font-size="20.0" fill="#eef0f0" text-anchor="middle" font-weight="400" textLength="47.5" lengthAdjust="spacingAndGlyphs" >34.4%</text><rect x="3408.3" y="1602.4" width="75.0" height="84.0" fill="#44bfe3"/><text x="3445.8" y="1651.4" font-family="Liberation Sans, sans-serif" font-size="20.0" fill="#eef0f0" text-anchor="middle" font-weight="400" textLength="47.5" lengthAdjust="spacingAndGlyphs" >20.5%</text><rect x="3408.3" y="1467.7" width="75.0" height="135.0" fill="#f1a13d"/><text x="3445.8" y="1542.2" font-family="Liberation Sans, sans-serif" font-size="20.0" fill="#eef0f0" text-anchor="middle" font-weight="400" textLength="47.5" lengthAdjust="spacingAndGlyphs" >33.0%</text><rect x="3408.3" y="1418.3" width="75.0" height="49.7" fill="#966db5"/><text x="3445.8" y="1450.2" font-family="Liberation Sans, sans-serif" font-size="20.0" fill="#eef0f0" text-anchor="middle" font-weight="400" textLength="47.5" lengthAdjust="spacingAndGlyphs" >12.1%</text><rect x="3501.9" y="1416.8" width="78.0" height="409.6" fill="#d9dcdc"/><rect x="3503.4" y="1709.7" width="75.0" height="117.0" fill="#3a4547"/><text x="3540.9" y="1775.2" font-family="Liberation Sans, sans-serif" font-size="20.0" fill="#eef0f0" text-anchor="middle" font-weight="400" textLength="47.5" lengthAdjust="spacingAndGlyphs" >28.6%</text><rect x="3503.4" y="1620.7" width="75.0" height="89.3" fill="#44bfe3"/><text x="3540.9" y="1672.4" font-family="Liberation Sans, sans-serif" font-size="20.0" fill="#eef0f0" text-anchor="middle" font-weight="400" textLength="47.5" lengthAdjust="spacingAndGlyphs" >21.8%</text><rect x="3503.4" y="1473.0" width="75.0" height="148.0" fill="#f1a13d"/><text x="3540.9" y="1554.1" font-family="Liberation Sans, sans-serif" font-size="20.0" fill="#eef0f0" text-anchor="middle" font-weight="400" textLength="47.5" lengthAdjust="spacingAndGlyphs" >36.2%</text><rect x="3503.4" y="1418.3" width="75.0" height="55.0" fill="#966db5"/><text x="3540.9" y="1452.8" font-family="Liberation Sans, sans-serif" font-size="20.0" fill="#eef0f0" text-anchor="middle" font-weight="400" textLength="47.5" lengthAdjust="spacingAndGlyphs" >13.4%</text><rect x="3597.0" y="1416.8" width="78.0" height="409.6" fill="#d9dcdc"/><rect x="3598.5" y="1724.8" width="75.0" height="101.9" fill="#3a4547"/><text x="3636.0" y="1782.8" font-family="Liberation Sans, sans-serif" font-size="20.0" fill="#eef0f0" text-anchor="middle" font-weight="400" textLength="47.5" lengthAdjust="spacingAndGlyphs" >24.9%</text><rect x="3598.5" y="1705.6" width="75.0" height="19.5" fill="#dc59b3"/><rect x="3598.5" y="1602.4" width="75.0" height="103.5" fill="#44bfe3"/><text x="3636.0" y="1661.2" font-family="Liberation Sans, sans-serif" font-size="20.0" fill="#eef0f0" text-anchor="middle" font-weight="400" textLength="47.5" lengthAdjust="spacingAndGlyphs" >25.3%</text><rect x="3598.5" y="1600.7" width="75.0" height="1.9" fill="#2b99ba"/><rect x="3598.5" y="1476.7" width="75.0" height="124.4" fill="#f1a13d"/><text x="3636.0" y="1545.9" font-family="Liberation Sans, sans-serif" font-size="20.0" fill="#eef0f0" text-anchor="middle" font-weight="400" textLength="47.5" lengthAdjust="spacingAndGlyphs" >30.4%</text><rect x="3598.5" y="1418.3" width="75.0" height="58.7" fill="#966db5"/><text x="3636.0" y="1454.7" font-family="Liberation Sans, sans-serif" font-size="20.0" fill="#eef0f0" text-anchor="middle" font-weight="400" textLength="47.5" lengthAdjust="spacingAndGlyphs" >14.3%</text><rect x="3692.1" y="1416.8" width="78.0" height="409.6" fill="#d9dcdc"/><rect x="3693.6" y="1742.1" width="75.0" height="84.6" fill="#3a4547"/><text x="3731.1" y="1791.4" font-family="Liberation Sans, sans-serif" font-size="20.0" fill="#eef0f0" text-anchor="middle" font-weight="400" textLength="47.5" lengthAdjust="spacingAndGlyphs" >20.6%</text><rect x="3693.6" y="1673.3" width="75.0" height="69.1" fill="#dc59b3"/><text x="3731.1" y="1714.9" font-family="Liberation Sans, sans-serif" font-size="20.0" fill="#eef0f0" text-anchor="middle" font-weight="400" textLength="47.5" lengthAdjust="spacingAndGlyphs" >16.8%</text><rect x="3693.6" y="1577.9" width="75.0" height="95.7" fill="#44bfe3"/><text x="3731.1" y="1632.8" font-family="Liberation Sans, sans-serif" font-size="20.0" fill="#eef0f0" text-anchor="middle" font-weight="400" textLength="47.5" lengthAdjust="spacingAndGlyphs" >23.3%</text><rect x="3693.6" y="1551.7" width="75.0" height="26.5" fill="#2b99ba"/><text x="3731.1" y="1572.0" font-family="Liberation Sans, sans-serif" font-size="20.0" fill="#eef0f0" text-anchor="middle" font-weight="400" textLength="38.0" lengthAdjust="spacingAndGlyphs" >6.4%</text><rect x="3693.6" y="1468.6" width="75.0" height="83.4" fill="#f1a13d"/><text x="3731.1" y="1517.4" font-family="Liberation Sans, sans-serif" font-size="20.0" fill="#eef0f0" text-anchor="middle" font-weight="400" textLength="47.5" lengthAdjust="spacingAndGlyphs" >20.3%</text><rect x="3693.6" y="1418.3" width="75.0" height="50.6" fill="#966db5"/><text x="3731.1" y="1450.7" font-family="Liberation Sans, sans-serif" font-size="20.0" fill="#eef0f0" text-anchor="middle" font-weight="400" textLength="47.5" lengthAdjust="spacingAndGlyphs" >12.3%</text><rect x="3787.2" y="1416.8" width="78.0" height="409.6" fill="#d9dcdc"/><rect x="3788.7" y="1759.9" width="75.0" height="66.8" fill="#3a4547"/><text x="3826.2" y="1800.3" font-family="Liberation Sans, sans-serif" font-size="20.0" fill="#eef0f0" text-anchor="middle" font-weight="400" textLength="47.5" lengthAdjust="spacingAndGlyphs" >16.2%</text><rect x="3788.7" y="1646.6" width="75.0" height="113.6" fill="#dc59b3"/><text x="3826.2" y="1710.4" font-family="Liberation Sans, sans-serif" font-size="20.0" fill="#eef0f0" text-anchor="middle" font-weight="400" textLength="47.5" lengthAdjust="spacingAndGlyphs" >27.6%</text><rect x="3788.7" y="1569.4" width="75.0" height="77.5" fill="#44bfe3"/><text x="3826.2" y="1615.2" font-family="Liberation Sans, sans-serif" font-size="20.0" fill="#eef0f0" text-anchor="middle" font-weight="400" textLength="47.5" lengthAdjust="spacingAndGlyphs" >18.8%</text><rect x="3788.7" y="1516.4" width="75.0" height="53.3" fill="#2b99ba"/><text x="3826.2" y="1550.1" font-family="Liberation Sans, sans-serif" font-size="20.0" fill="#eef0f0" text-anchor="middle" font-weight="400" textLength="47.5" lengthAdjust="spacingAndGlyphs" >12.9%</text><rect x="3788.7" y="1458.1" width="75.0" height="58.6" fill="#f1a13d"/><text x="3826.2" y="1494.5" font-family="Liberation Sans, sans-serif" font-size="20.0" fill="#eef0f0" text-anchor="middle" font-weight="400" textLength="47.5" lengthAdjust="spacingAndGlyphs" >14.2%</text><rect x="3788.7" y="1418.3" width="75.0" height="40.1" fill="#966db5"/><text x="3826.2" y="1445.4" font-family="Liberation Sans, sans-serif" font-size="20.0" fill="#eef0f0" text-anchor="middle" font-weight="400" textLength="38.0" lengthAdjust="spacingAndGlyphs" >9.7%</text><text x="3160.5" y="1862.5" font-family="Liberation Sans, sans-serif" font-size="23.6" fill="#2c2c2c" text-anchor="middle" font-weight="400" textLength="47.5" lengthAdjust="spacingAndGlyphs" >2019</text><text x="3255.6" y="1862.5" font-family="Liberation Sans, sans-serif" font-size="23.6" fill="#2c2c2c" text-anchor="middle" font-weight="400" textLength="47.5" lengthAdjust="spacingAndGlyphs" >2020</text><text x="3350.7" y="1862.5" font-family="Liberation Sans, sans-serif" font-size="23.6" fill="#2c2c2c" text-anchor="middle" font-weight="400" textLength="47.5" lengthAdjust="spacingAndGlyphs" >2021</text><text x="3445.8" y="1862.5" font-family="Liberation Sans, sans-serif" font-size="23.6" fill="#2c2c2c" text-anchor="middle" font-weight="400" textLength="47.5" lengthAdjust="spacingAndGlyphs" >2022</text><text x="3540.9" y="1862.5" font-family="Liberation Sans, sans-serif" font-size="23.6" fill="#2c2c2c" text-anchor="middle" font-weight="400" textLength="47.5" lengthAdjust="spacingAndGlyphs" >2023</text><text x="3636.0" y="1862.5" font-family="Liberation Sans, sans-serif" font-size="23.6" fill="#2c2c2c" text-anchor="middle" font-weight="400" textLength="47.5" lengthAdjust="spacingAndGlyphs" >2024</text><text x="3731.1" y="1862.5" font-family="Liberation Sans, sans-serif" font-size="23.6" fill="#2c2c2c" text-anchor="middle" font-weight="400" textLength="47.5" lengthAdjust="spacingAndGlyphs" >2025</text><text x="3826.2" y="1862.5" font-family="Liberation Sans, sans-serif" font-size="23.6" fill="#2c2c2c" text-anchor="middle" font-weight="400" textLength="47.5" lengthAdjust="spacingAndGlyphs" >2026</text></svg>
<svg class="abs" style="left:2780px;top:470px" width="260" height="140" viewBox="2780 470 260 140"><polygon points="2870.3,476.6 2942.9,476.6 2942.9,538.5 2980,538.5 2905.6,598.6 2833.8,538.5 2870.3,538.5" fill="#ff33cc"/></svg>
<svg class="abs" style="left:2780px;top:1490px" width="260" height="140" viewBox="2780 1490 260 140"><polygon points="2870,1495.5 2942.7,1495.5 2942.7,1555.9 2980,1555.9 2906.7,1619.3 2833.4,1555.9 2870,1555.9" fill="#ff33cc"/></svg>
<div class="abs pink" style="left:2799.3px;top:379.1px;font-size:65px;line-height:80px;letter-spacing:1.35px;font-family:'Liberation Sans',sans-serif">Brand1</div>
<div class="abs pink" style="left:2799.3px;top:1415.5px;font-size:65px;line-height:80px;letter-spacing:1.35px;font-family:'Liberation Sans',sans-serif">Brand1</div>

<svg class="abs" style="left:3060px;top:1990px" width="860" height="200" viewBox="3060 1990 860 200"><text x="3085" y="2114.8" font-family="Liberation Sans, sans-serif" font-weight="700" font-size="100" fill="#0a0a0a" textLength="346" lengthAdjust="spacingAndGlyphs">Evaluate</text><polygon points="3451,2009 3483,2009 3483,2042 3452,2073 3452,2042 3420,2042" fill="#663399"/><text x="3085.5" y="2167.5" font-family="Liberation Sans, sans-serif" font-size="31.5" fill="#8a8a8a" textLength="303" lengthAdjust="spacing">a norstella company</text><rect x="3569" y="2001" width="2.4" height="171" fill="#111"/><g fill="#00e6b2"><rect x="3703" y="2000.2" width="23.4" height="21.4"/><path d="M3680.3 2022 H3702.8 V2081 A32.9 32.9 0 0 1 3637 2081 H3660.4 A9.95 9.95 0 0 0 3680.3 2081 Z"/><rect x="3715" y="2065" width="65" height="21.4"/><rect x="3738" y="2044" width="20.7" height="64"/><path d="M3792.4 2065 H3812.6 V2117.4 H3819.8 A26.2 26.2 0 0 0 3819.8 2065 H3812.6 V2045.2 H3820.4 A45.8 45.8 0 0 1 3820.4 2136.8 H3792.4 Z"/></g><text x="3751.3" y="2168" font-family="Liberation Sans, sans-serif" font-size="12.6" fill="#666" text-anchor="middle" textLength="149" lengthAdjust="spacing">an Evaluate company</text></svg>

</body></html>
